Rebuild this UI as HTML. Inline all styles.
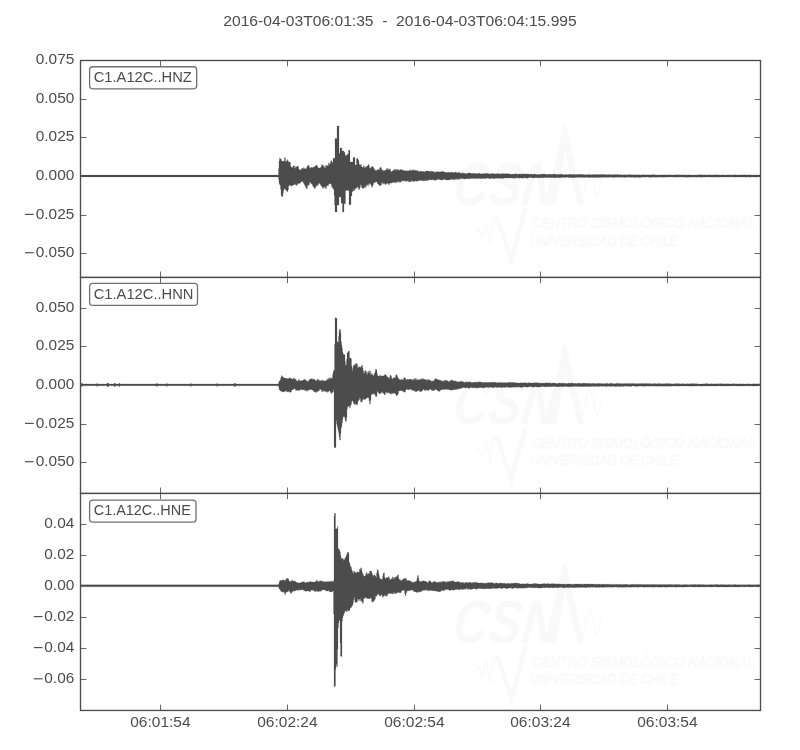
<!DOCTYPE html>
<html><head><meta charset="utf-8"><title>plot</title>
<style>html,body{margin:0;padding:0;background:#fff;}svg{display:block;}</style></head>
<body>
<svg width="800" height="750" viewBox="0 0 800 750" font-family="'Liberation Sans', sans-serif" fill="#4c4c4c">
<rect width="800" height="750" fill="#fff"/>
<g transform="translate(0,0.0)" fill="#f9f9f9" stroke="none">
<text transform="translate(451.5,205) skewX(-7)" font-size="61" font-weight="bold" font-style="italic" textLength="104" lengthAdjust="spacingAndGlyphs">CSN</text>
<path d="M549,205 L556,160 L563.6,125 L566,125 L584,205 L578,205 L565,152 L556,205Z"/>
<path d="M581,205 L589.5,167 L597,197 L602,179" fill="none" stroke="#f8f8f8" stroke-width="1"/>
<path d="M476,233 L479,228 L482,238 L486,222 L490,244 L494,216 L497,222" fill="none" stroke="#f8f8f8" stroke-width="1"/>
<path d="M495,217 L499,217 L511,252 L523,208 L528,208 L511.5,268Z"/>
<g fill="none" stroke="#f5f5f5" stroke-width="0.45" font-style="italic">
<text x="532" y="228.3" font-size="15" textLength="223" lengthAdjust="spacingAndGlyphs">CENTRO SISMOLÓGICO NACIONAL</text>
<text x="530" y="245.6" font-size="15" textLength="148" lengthAdjust="spacingAndGlyphs">UNIVERSIDAD DE CHILE</text>
</g></g>
<g transform="translate(0,219.4)" fill="#f9f9f9" stroke="none">
<text transform="translate(451.5,205) skewX(-7)" font-size="61" font-weight="bold" font-style="italic" textLength="104" lengthAdjust="spacingAndGlyphs">CSN</text>
<path d="M549,205 L556,160 L563.6,125 L566,125 L584,205 L578,205 L565,152 L556,205Z"/>
<path d="M581,205 L589.5,167 L597,197 L602,179" fill="none" stroke="#f8f8f8" stroke-width="1"/>
<path d="M476,233 L479,228 L482,238 L486,222 L490,244 L494,216 L497,222" fill="none" stroke="#f8f8f8" stroke-width="1"/>
<path d="M495,217 L499,217 L511,252 L523,208 L528,208 L511.5,268Z"/>
<g fill="none" stroke="#f5f5f5" stroke-width="0.45" font-style="italic">
<text x="532" y="228.3" font-size="15" textLength="223" lengthAdjust="spacingAndGlyphs">CENTRO SISMOLÓGICO NACIONAL</text>
<text x="530" y="245.6" font-size="15" textLength="148" lengthAdjust="spacingAndGlyphs">UNIVERSIDAD DE CHILE</text>
</g></g>
<g transform="translate(0,438.3)" fill="#f9f9f9" stroke="none">
<text transform="translate(451.5,205) skewX(-7)" font-size="61" font-weight="bold" font-style="italic" textLength="104" lengthAdjust="spacingAndGlyphs">CSN</text>
<path d="M549,205 L556,160 L563.6,125 L566,125 L584,205 L578,205 L565,152 L556,205Z"/>
<path d="M581,205 L589.5,167 L597,197 L602,179" fill="none" stroke="#f8f8f8" stroke-width="1"/>
<path d="M476,233 L479,228 L482,238 L486,222 L490,244 L494,216 L497,222" fill="none" stroke="#f8f8f8" stroke-width="1"/>
<path d="M495,217 L499,217 L511,252 L523,208 L528,208 L511.5,268Z"/>
<g fill="none" stroke="#f5f5f5" stroke-width="0.45" font-style="italic">
<text x="532" y="228.3" font-size="15" textLength="223" lengthAdjust="spacingAndGlyphs">CENTRO SISMOLÓGICO NACIONAL</text>
<text x="530" y="245.6" font-size="15" textLength="148" lengthAdjust="spacingAndGlyphs">UNIVERSIDAD DE CHILE</text>
</g></g>
<path d="M80.5,175.1V175.1H81V175.1H81.5V175.1H82V175.1H82.5V175.1H83V175.1H83.5V175.1H84V175.1H84.5V175.1H85V175.1H85.5V175.1H86V175.1H86.5V175.1H87V175.1H87.5V175.1H88V175.1H88.5V175.1H89V175.1H89.5V175.1H90V175.1H90.5V175.1H91V175.1H91.5V175.1H92V175.1H92.5V175.1H93V175.1H93.5V175.1H94V175.1H94.5V175.1H95V175.1H95.5V175.1H96V175.1H96.5V175.1H97V175.1H97.5V175.1H98V175.1H98.5V175.1H99V175.1H99.5V175.1H100V175.1H100.5V175.1H101V175.1H101.5V175.1H102V175.1H102.5V175.1H103V175.1H103.5V175.1H104V175.1H104.5V175.1H105V175.1H105.5V175.1H106V175.1H106.5V175.1H107V175.1H107.5V175.1H108V175.1H108.5V175.1H109V175.1H109.5V175.1H110V175.1H110.5V175.1H111V175.1H111.5V175.1H112V175.1H112.5V175.1H113V175.1H113.5V175.1H114V175.1H114.5V175.1H115V175.1H115.5V175.1H116V175.1H116.5V175.1H117V175.1H117.5V175.1H118V175.1H118.5V175.1H119V175.1H119.5V175.1H120V175.1H120.5V175.1H121V175.1H121.5V175.1H122V175.1H122.5V175.1H123V175.1H123.5V175.1H124V175.1H124.5V175.1H125V175.1H125.5V175.1H126V175.1H126.5V175.1H127V175.1H127.5V175.1H128V175.1H128.5V175.1H129V175.1H129.5V175.1H130V175.1H130.5V175.1H131V175.1H131.5V175.1H132V175.1H132.5V175.1H133V175.1H133.5V175.1H134V175.1H134.5V175.1H135V175.1H135.5V175.1H136V175.1H136.5V175.1H137V175.1H137.5V175.1H138V175.1H138.5V175.1H139V175.1H139.5V175.1H140V175.1H140.5V175.1H141V175.1H141.5V175.1H142V175.1H142.5V175.1H143V175.1H143.5V175.1H144V175.1H144.5V175.1H145V175.1H145.5V175.1H146V175.1H146.5V175.1H147V175.1H147.5V175.1H148V175.1H148.5V175.1H149V175.1H149.5V175.1H150V175.1H150.5V175.1H151V175.1H151.5V175.1H152V175.1H152.5V175.1H153V175.1H153.5V175.1H154V175.1H154.5V175.1H155V175.1H155.5V175.1H156V175.1H156.5V175.1H157V175.1H157.5V175.1H158V175.1H158.5V175.1H159V175.1H159.5V175.1H160V175.1H160.5V175.1H161V175.1H161.5V175.1H162V175.1H162.5V175.1H163V175.1H163.5V175.1H164V175.1H164.5V175.1H165V175.1H165.5V175.1H166V175.1H166.5V175.1H167V175.1H167.5V175.1H168V175.1H168.5V175.1H169V175.1H169.5V175.1H170V175.1H170.5V175.1H171V175.1H171.5V175.1H172V175.1H172.5V175.1H173V175.1H173.5V175.1H174V175.1H174.5V175.1H175V175.1H175.5V175.1H176V175.1H176.5V175.1H177V175.1H177.5V175.1H178V175.1H178.5V175.1H179V175.1H179.5V175.1H180V175.1H180.5V175.1H181V175.1H181.5V175.1H182V175.1H182.5V175.1H183V175.1H183.5V175.1H184V175.1H184.5V175.1H185V175.1H185.5V175.1H186V175.1H186.5V175.1H187V175.1H187.5V175.1H188V175.1H188.5V175.1H189V175.1H189.5V175.1H190V175.1H190.5V175.1H191V175.1H191.5V175.1H192V175.1H192.5V175.1H193V175.1H193.5V175.1H194V175.1H194.5V175.1H195V175.1H195.5V175.1H196V175.1H196.5V175.1H197V175.1H197.5V175.1H198V175.1H198.5V175.1H199V175.1H199.5V175.1H200V175.1H200.5V175.1H201V175.1H201.5V175.1H202V175.1H202.5V175.1H203V175.1H203.5V175.1H204V175.1H204.5V175.1H205V175.1H205.5V175.1H206V175.1H206.5V175.1H207V175.1H207.5V175.1H208V175.1H208.5V175.1H209V175.1H209.5V175.1H210V175.1H210.5V175.1H211V175.1H211.5V175.1H212V175.1H212.5V175.1H213V175.1H213.5V175.1H214V175.1H214.5V175.1H215V175.1H215.5V175.1H216V175.1H216.5V175.1H217V175.1H217.5V175.1H218V175.1H218.5V175.1H219V175.1H219.5V175.1H220V175.1H220.5V175.1H221V175.1H221.5V175.1H222V175.1H222.5V175.1H223V175.1H223.5V175.1H224V175.1H224.5V175.1H225V175.1H225.5V175.1H226V175.1H226.5V175.1H227V175.1H227.5V175.1H228V175.1H228.5V175.1H229V175.1H229.5V175.1H230V175.1H230.5V175.1H231V175.1H231.5V175.1H232V175.1H232.5V175.1H233V175.1H233.5V175.1H234V175.1H234.5V175.1H235V175.1H235.5V175.1H236V175.1H236.5V175.1H237V175.1H237.5V175.1H238V175.1H238.5V175.1H239V175.1H239.5V175.1H240V175.1H240.5V175.1H241V175.1H241.5V175.1H242V175.1H242.5V175.1H243V175.1H243.5V175.1H244V175.1H244.5V175.1H245V175.1H245.5V175.1H246V175.1H246.5V175.1H247V175.1H247.5V175.1H248V175.1H248.5V175.1H249V175.1H249.5V175.1H250V175.1H250.5V175.1H251V175.1H251.5V175.1H252V175.1H252.5V175.1H253V175.1H253.5V175.1H254V175.1H254.5V175.1H255V175.1H255.5V175.1H256V175.1H256.5V175.1H257V175.1H257.5V175.1H258V175.1H258.5V175.1H259V175.1H259.5V175.1H260V175.1H260.5V175.1H261V175.1H261.5V175.1H262V175.1H262.5V175.1H263V175.1H263.5V175.1H264V175.1H264.5V175.1H265V175.1H265.5V175.1H266V175.1H266.5V175.1H267V175.1H267.5V175.1H268V175.1H268.5V175.1H269V175.1H269.5V175.1H270V175.1H270.5V175.1H271V175.1H271.5V175.1H272V175.1H272.5V175.1H273V175.1H273.5V175.1H274V175.1H274.5V175.1H275V175.1H275.5V175.1H276V175.1H276.5V175.1H277V175.1H277.5V175.1H278V175.1H278.5V168.5H279V160.7H279.5V157.9H280V158.4H280.5V159.1H281V159.6H281.5V161.3H282V161H282.5V161.2H283V160.9H283.5V161.4H284V161.1H284.5V157.6H285V158.1H285.5V161.7H286V161.8H286.5V160.8H287V160.4H287.5V159.6H288V161.2H288.5V162.3H289V162.1H289.5V162H290V162.6H290.5V166.2H291V167.5H291.5V167.3H292V167.7H292.5V167H293V166H293.5V165.9H294V165.7H294.5V167.9H295V168.5H295.5V166.5H296V166.8H296.5V167H297V166.5H297.5V165.9H298V166.2H298.5V168.8H299V169.6H299.5V169.7H300V169.7H300.5V170.2H301V169.8H301.5V168.6H302V168.1H302.5V168.6H303V168.9H303.5V167.6H304V168H304.5V168.9H305V168.8H305.5V168.9H306V168.8H306.5V167.4H307V166.5H307.5V165.8H308V164.9H308.5V165.4H309V166.7H309.5V167.9H310V168.4H310.5V167.6H311V167.2H311.5V167.7H312V167.7H312.5V167.4H313V167.5H313.5V167.1H314V167H314.5V166.5H315V166.1H315.5V165.7H316V165.3H316.5V165.2H317V165.7H317.5V167.2H318V167.7H318.5V168.5H319V168.1H319.5V168H320V167.6H320.5V167.5H321V167.1H321.5V164.6H322V164.7H322.5V165.3H323V165.4H323.5V166.3H324V166.5H324.5V168H325V168.1H325.5V165.6H326V165.3H326.5V165.8H327V165.4H327.5V166.3H328V165.7H328.5V162.9H329V163.4H329.5V164.4H330V163.9H330.5V161.2H331V160.4H331.5V161.4H332V162H332.5V163.2H333V158.2H333.5V158.2H334V158.2H334.5V158.2H335V138.4H335.5V138.4H336V138.4H336.5V138.4H337V125.9H337.5V125.9H338V125.9H338.5V125.9H339V153.2H339.5V153.2H340V148.1H340.5V148.1H341V148.1H341.5V148.1H342V151.1H342.5V151.1H343V151.1H343.5V151.1H344V152.2H344.5V152.2H345V155.4H345.5V155.4H346V155.4H346.5V155.4H347V154.3H347.5V154.3H348V154.3H348.5V150.2H349V150.2H349.5V150.2H350V161.9H350.5V161.9H351V161.9H351.5V161.9H352V161.9H352.5V161.9H353V157.5H353.5V157.5H354V157.5H354.5V157.5H355V165H355.5V165H356V165H356.5V158.4H357V158.4H357.5V158.4H358V160.3H358.5V160.3H359V164.4H359.5V164.6H360V165.6H360.5V164.5H361V164.5H361.5V167H362V167H362.5V167.2H363V167.6H363.5V165.7H364V166.2H364.5V168H365V168H365.5V166.6H366V166.6H366.5V166.9H367V165.9H367.5V166.1H368V165.3H368.5V164.3H369V166.1H369.5V168H370V168.6H370.5V167.9H371V167.2H371.5V166.9H372V166.3H372.5V166.5H373V167.2H373.5V168.1H374V168.9H374.5V170.1H375V170.2H375.5V170.4H376V170.5H376.5V170.2H377V170.3H377.5V169.4H378V169H378.5V170.2H379V169.9H379.5V167.9H380V167.5H380.5V167.2H381V167.8H381.5V169.9H382V170.4H382.5V169.8H383V170.3H383.5V171.2H384V171H384.5V170.4H385V170.1H385.5V170H386V169.8H386.5V168.4H387V168.2H387.5V169.9H388V169.8H388.5V168.9H389V169.3H389.5V168.7H390V169.2H390.5V171.2H391V171.5H391.5V171.4H392V171.3H392.5V170.8H393V170.6H393.5V170.3H394V170.1H394.5V169H395V169.1H395.5V170.5H396V170.6H396.5V169.5H397V169.6H397.5V169.4H398V169.4H398.5V170.5H399V170.4H399.5V170H400V169.9H400.5V169.4H401V169.3H401.5V170H402V170.2H402.5V169.9H403V170.2H403.5V170.4H404V170.7H404.5V170.8H405V170.7H405.5V170.7H406V170.5H406.5V171.2H407V171.1H407.5V170.8H408V170.7H408.5V171.1H409V171.1H409.5V169.7H410V169.7H410.5V170.8H411V170.8H411.5V170.4H412V170.3H412.5V169.7H413V169.7H413.5V170.8H414V171H414.5V169.8H415V170H415.5V170.7H416V170.8H416.5V170.5H417V170.6H417.5V170.8H418V170.9H418.5V171.9H419V171.9H419.5V171.1H420V171.1H420.5V171.1H421V171.1H421.5V171.8H422V171.8H422.5V171.3H423V171.3H423.5V171.8H424V171.8H424.5V171.9H425V171.8H425.5V171H426V171H426.5V171.1H427V171.1H427.5V171H428V171H428.5V171H429V170.9H429.5V171.7H430V171.8H430.5V171.3H431V171.4H431.5V170.9H432V171.1H432.5V171.8H433V171.9H433.5V171.6H434V171.7H434.5V172.5H435V172.5H435.5V171.8H436V171.7H436.5V171.9H437V171.9H437.5V171.6H438V171.6H438.5V172H439V171.9H439.5V172.1H440V172.1H440.5V171.8H441V171.8H441.5V171.3H442V171.4H442.5V171.5H443V171.6H443.5V171.9H444V172H444.5V172H445V172.1H445.5V172.7H446V172.8H446.5V172.2H447V172.2H447.5V172.4H448V172.3H448.5V172.2H449V172.2H449.5V172.4H450V172.4H450.5V172.3H451V172.3H451.5V172.4H452V172.3H452.5V172.3H453V172.3H453.5V172.9H454V173H454.5V172.2H455V172.2H455.5V172.1H456V172.1H456.5V173.1H457V173.1H457.5V172.7H458V172.8H458.5V172.3H459V172.3H459.5V172.8H460V173.3H460.5V173.4H461V173.4H461.5V172.8H462V172.8H462.5V173.2H463V173.2H463.5V173H464V173.1H464.5V173.4H465V173.4H465.5V173.7H466V173.7H466.5V173.7H467V173.7H467.5V172.9H468V172.9H468.5V172.9H469V172.9H469.5V173.1H470V173.1H470.5V173.2H471V173.2H471.5V173.7H472V173.7H472.5V173.2H473V173.2H473.5V173.3H474V173.3H474.5V173.6H475V173.6H475.5V173.8H476V173.8H476.5V173.2H477V173.2H477.5V173.9H478V173.9H478.5V173H479V173H479.5V173.4H480V173.4H480.5V173.9H481V174H481.5V173.9H482V173.9H482.5V173.3H483V173.4H483.5V173.9H484V174H484.5V173.4H485V173.4H485.5V173.6H486V173.6H486.5V173.4H487V173.4H487.5V173.3H488V173.4H488.5V173.9H489V173.9H489.5V173.8H490V173.8H490.5V174H491V174H491.5V173.6H492V173.6H492.5V173.3H493V173.3H493.5V174.1H494V174.1H494.5V173.9H495V173.9H495.5V173.7H496V173.7H496.5V173.8H497V173.9H497.5V173.5H498V173.5H498.5V173.8H499V173.8H499.5V174.2H500V174.2H500.5V173.7H501V173.8H501.5V173.7H502V173.7H502.5V173.8H503V173.8H503.5V173.5H504V173.5H504.5V173.9H505V173.9H505.5V173.6H506V173.7H506.5V173.7H507V173.7H507.5V173.6H508V173.6H508.5V174.1H509V174.1H509.5V174H510V174H510.5V174.2H511V174.2H511.5V174.2H512V174.2H512.5V173.9H513V173.9H513.5V174.3H514V174.3H514.5V173.9H515V173.9H515.5V173.7H516V173.7H516.5V174.2H517V174.2H517.5V174.3H518V174.3H518.5V174.1H519V174.1H519.5V174H520V174H520.5V174.2H521V174.2H521.5V173.9H522V173.9H522.5V173.7H523V173.7H523.5V174.2H524V174.3H524.5V173.9H525V173.9H525.5V174H526V174H526.5V173.9H527V173.9H527.5V174.1H528V174.1H528.5V174.3H529V174.3H529.5V174.3H530V174.3H530.5V174H531V174H531.5V174.3H532V174.3H532.5V174.4H533V174.4H533.5V174H534V174H534.5V174H535V174H535.5V174.4H536V174.4H536.5V174.4H537V174.4H537.5V174.4H538V174.4H538.5V174.4H539V174.4H539.5V174.5H540V174.5H540.5V174.1H541V174.1H541.5V174.4H542V174.4H542.5V173.9H543V174H543.5V174H544V174H544.5V174H545V174H545.5V174.5H546V174.5H546.5V174.5H547V174.5H547.5V174.3H548V174.3H548.5V174.2H549V174.2H549.5V174.2H550V174.3H550.5V174.3H551V174.3H551.5V174.5H552V174.5H552.5V174.2H553V174.2H553.5V174.1H554V174.1H554.5V174.1H555V174.1H555.5V174.5H556V174.5H556.5V174.4H557V174.4H557.5V174.4H558V174.4H558.5V174.2H559V174.2H559.5V174.5H560V174.5H560.5V174.1H561V174.1H561.5V174.4H562V174.4H562.5V174.6H563V174.6H563.5V174.7H564V174.7H564.5V174.7H565V174.7H565.5V174.3H566V174.3H566.5V174.7H567V174.7H567.5V174.6H568V174.6H568.5V174.4H569V174.4H569.5V174.3H570V174.3H570.5V174.5H571V174.5H571.5V174.5H572V174.5H572.5V174.6H573V174.6H573.5V174.3H574V174.3H574.5V174.7H575V174.7H575.5V174.6H576V174.6H576.5V174.5H577V174.5H577.5V174.8H578V174.8H578.5V174.3H579V174.3H579.5V174.3H580V174.3H580.5V174.4H581V174.4H581.5V174.5H582V174.5H582.5V174.3H583V174.3H583.5V174.7H584V174.7H584.5V174.7H585V174.7H585.5V174.7H586V174.8H586.5V174.7H587V174.7H587.5V174.4H588V174.4H588.5V174.7H589V174.7H589.5V174.5H590V174.5H590.5V174.7H591V174.7H591.5V174.8H592V174.8H592.5V174.6H593V174.6H593.5V174.7H594V174.7H594.5V174.4H595V174.4H595.5V174.6H596V174.6H596.5V174.4H597V174.4H597.5V174.7H598V174.7H598.5V174.5H599V174.5H599.5V174.5H600V174.5H600.5V174.4H601V174.4H601.5V174.5H602V174.5H602.5V174.6H603V174.6H603.5V174.6H604V174.6H604.5V174.5H605V174.5H605.5V174.7H606V174.7H606.5V174.7H607V174.7H607.5V174.8H608V174.8H608.5V174.5H609V174.5H609.5V174.5H610V174.5H610.5V174.9H611V174.9H611.5V174.5H612V174.5H612.5V174.7H613V174.7H613.5V174.8H614V174.8H614.5V174.6H615V174.6H615.5V174.7H616V174.7H616.5V174.5H617V174.5H617.5V174.5H618V174.5H618.5V174.9H619V174.9H619.5V174.7H620V174.7H620.5V174.6H621V174.6H621.5V174.9H622V174.9H622.5V174.9H623V174.9H623.5V174.8H624V174.8H624.5V174.8H625V174.8H625.5V175H626V175H626.5V174.7H627V174.7H627.5V174.8H628V174.8H628.5V174.7H629V174.7H629.5V174.6H630V174.6H630.5V174.7H631V174.7H631.5V174.9H632V175H632.5V174.7H633V174.7H633.5V174.9H634V174.9H634.5V174.8H635V174.8H635.5V174.7H636V174.7H636.5V174.9H637V174.9H637.5V174.9H638V174.9H638.5V174.7H639V174.7H639.5V174.9H640V174.9H640.5V174.9H641V174.9H641.5V174.9H642V174.9H642.5V174.6H643V174.6H643.5V174.8H644V174.8H644.5V175H645V175H645.5V174.9H646V174.9H646.5V174.7H647V174.7H647.5V175H648V175H648.5V174.8H649V174.8H649.5V174.9H650V174.9H650.5V174.9H651V174.9H651.5V174.8H652V174.8H652.5V174.6H653V174.6H653.5V174.8H654V174.8H654.5V174.8H655V174.8H655.5V174.9H656V174.9H656.5V174.9H657V174.9H657.5V174.9H658V174.9H658.5V174.9H659V174.9H659.5V174.9H660V174.9H660.5V174.9H661V174.9H661.5V174.7H662V174.7H662.5V175H663V175H663.5V174.9H664V174.9H664.5V174.7H665V174.7H665.5V175H666V175H666.5V175H667V175H667.5V174.9H668V174.9H668.5V174.8H669V174.8H669.5V174.8H670V174.8H670.5V174.9H671V174.9H671.5V175H672V175H672.5V175.1H673V175.1H673.5V175H674V175H674.5V174.8H675V174.8H675.5V175H676V175H676.5V174.7H677V174.7H677.5V174.8H678V174.8H678.5V174.9H679V174.9H679.5V174.8H680V174.8H680.5V175H681V175H681.5V174.9H682V174.9H682.5V174.9H683V174.9H683.5V174.8H684V174.8H684.5V174.9H685V174.9H685.5V175H686V175H686.5V175H687V175H687.5V175H688V175H688.5V174.8H689V174.8H689.5V175H690V175H690.5V175H691V175H691.5V175H692V175H692.5V175.1H693V175.1H693.5V175.1H694V175.1H694.5V175.1H695V175.1H695.5V174.9H696V174.9H696.5V174.9H697V174.9H697.5V175H698V175H698.5V174.8H699V174.8H699.5V174.8H700V174.8H700.5V174.8H701V174.8H701.5V174.8H702V174.8H702.5V175H703V175H703.5V174.9H704V174.9H704.5V174.8H705V174.8H705.5V175.1H706V175.1H706.5V174.9H707V174.9H707.5V175.1H708V175.1H708.5V174.8H709V174.8H709.5V174.8H710V174.8H710.5V174.9H711V174.9H711.5V174.9H712V174.9H712.5V175H713V175H713.5V175.1H714V175.1H714.5V174.8H715V174.8H715.5V174.8H716V174.8H716.5V174.9H717V174.9H717.5V174.8H718V174.8H718.5V175H719V175H719.5V174.9H720V174.9H720.5V175H721V175H721.5V174.9H722V174.9H722.5V174.8H723V174.8H723.5V175H724V175H724.5V175H725V175H725.5V175.1H726V175.1H726.5V175H727V175H727.5V174.9H728V174.9H728.5V174.8H729V174.8H729.5V175H730V175H730.5V174.9H731V174.9H731.5V175.1H732V175.1H732.5V175.1H733V175.1H733.5V174.8H734V174.8H734.5V174.8H735V174.8H735.5V175H736V175H736.5V175.1H737V175.1H737.5V174.9H738V174.9H738.5V175H739V175H739.5V174.9H740V174.9H740.5V174.8H741V174.8H741.5V175.1H742V175.1H742.5V175.1H743V175.1H743.5V174.8H744V174.8H744.5V174.8H745V174.8H745.5V175H746V175H746.5V175.1H747V175.1H747.5V175H748V175H748.5V174.8H749V174.8H749.5V175.1H750V175.1H750.5V175.1H751V175.1H751.5V175H752V175H752.5V175H753V175H753.5V175.1H754V175.1H754.5V175.1H755V175.1H755.5V175H756V175H756.5V175H757V175H757.5V174.9H758V174.9H758.5V174.9H759V174.9H759.5V175.1H760V175.1H760.5V177.1H760V177.1H759.5V177.1H759V177.1H758.5V177.1H758V177.1H757.5V177.1H757V177.1H756.5V177.2H756V177.2H755.5V177H755V177H754.5V176.9H754V176.9H753.5V176.9H753V176.9H752.5V177H752V177H751.5V177H751V177H750.5V177.2H750V177.2H749.5V177.1H749V177.1H748.5V176.9H748V176.9H747.5V177.1H747V177.1H746.5V177.2H746V177.2H745.5V176.9H745V176.9H744.5V177H744V177H743.5V177.1H743V177.1H742.5V177.1H742V177.1H741.5V177.1H741V177.1H740.5V176.9H740V176.9H739.5V177.1H739V177.1H738.5V176.9H738V176.9H737.5V177H737V177H736.5V177.1H736V177.1H735.5V177.2H735V177.2H734.5V177.1H734V177.1H733.5V177H733V177H732.5V177H732V177H731.5V176.9H731V176.9H730.5V176.9H730V176.9H729.5V177.1H729V177.1H728.5V177.1H728V177.1H727.5V176.9H727V176.9H726.5V177H726V177.1H725.5V177.1H725V177.1H724.5V176.9H724V176.9H723.5V177.1H723V177.1H722.5V177H722V177H721.5V177.1H721V177.1H720.5V177H720V177H719.5V177.2H719V177.2H718.5V177H718V177H717.5V177.1H717V177.1H716.5V177.1H716V177.1H715.5V177.2H715V177.2H714.5V176.9H714V176.9H713.5V177H713V177H712.5V177.2H712V177.2H711.5V177H711V177H710.5V177H710V177H709.5V176.9H709V176.9H708.5V176.9H708V176.9H707.5V176.9H707V176.9H706.5V177H706V177H705.5V177.2H705V177.2H704.5V177.1H704V177.1H703.5V177.2H703V177.2H702.5V177H702V177H701.5V177.2H701V177.2H700.5V177.2H700V177.2H699.5V177H699V177H698.5V176.9H698V176.9H697.5V177.3H697V177.3H696.5V176.9H696V176.9H695.5V177.1H695V177.1H694.5V177.2H694V177.2H693.5V176.9H693V176.9H692.5V177.1H692V177.1H691.5V177.2H691V177.2H690.5V177H690V177H689.5V177.2H689V177.2H688.5V177.2H688V177.2H687.5V177.2H687V177.2H686.5V177.3H686V177.3H685.5V177.1H685V177.1H684.5V177.2H684V177.2H683.5V177H683V177H682.5V177H682V177H681.5V177.1H681V177.1H680.5V176.9H680V176.9H679.5V177.1H679V177.1H678.5V177.1H678V177.1H677.5V177.2H677V177.2H676.5V177H676V177H675.5V177.1H675V177.1H674.5V177.3H674V177.3H673.5V177H673V177H672.5V176.9H672V176.9H671.5V176.9H671V176.9H670.5V177H670V177H669.5V177H669V177H668.5V177.1H668V177.1H667.5V177H667V177H666.5V177.3H666V177.3H665.5V177.1H665V177.1H664.5V177.2H664V177.2H663.5V177.2H663V177.2H662.5V177.3H662V177.3H661.5V177.1H661V177.1H660.5V177H660V177.1H659.5V177.2H659V177.2H658.5V177.2H658V177.2H657.5V177H657V177H656.5V177.2H656V177.2H655.5V177.2H655V177.2H654.5V177.1H654V177.1H653.5V177.2H653V177.2H652.5V177H652V177H651.5V177.4H651V177.4H650.5V177.3H650V177.3H649.5V177.3H649V177.3H648.5V177.1H648V177.1H647.5V177.1H647V177.1H646.5V177.1H646V177.1H645.5V177.3H645V177.3H644.5V177.2H644V177.2H643.5V177.1H643V177.1H642.5V177.1H642V177.1H641.5V177.4H641V177.4H640.5V177.2H640V177.2H639.5V177.4H639V177.4H638.5V177.4H638V177.4H637.5V177H637V177H636.5V177.4H636V177.4H635.5V177.2H635V177.2H634.5V177.4H634V177.4H633.5V177.2H633V177.2H632.5V177H632V177H631.5V177.4H631V177.4H630.5V177.1H630V177.1H629.5V177.2H629V177.2H628.5V177.3H628V177.3H627.5V177.1H627V177.1H626.5V177.2H626V177.2H625.5V177.4H625V177.4H624.5V177.5H624V177.5H623.5V177.1H623V177.1H622.5V177.2H622V177.2H621.5V177.5H621V177.5H620.5V177.1H620V177.1H619.5V177.2H619V177.2H618.5V177.2H618V177.2H617.5V177.3H617V177.3H616.5V177.3H616V177.3H615.5V177.3H615V177.3H614.5V177.4H614V177.4H613.5V177.3H613V177.3H612.5V177.4H612V177.5H611.5V177.1H611V177.1H610.5V177.2H610V177.2H609.5V177.2H609V177.2H608.5V177.4H608V177.4H607.5V177.3H607V177.3H606.5V177.3H606V177.3H605.5V177.2H605V177.3H604.5V177.3H604V177.3H603.5V177.3H603V177.3H602.5V177.4H602V177.4H601.5V177.2H601V177.2H600.5V177.4H600V177.4H599.5V177.4H599V177.4H598.5V177.5H598V177.5H597.5V177.5H597V177.5H596.5V177.5H596V177.5H595.5V177.4H595V177.4H594.5V177.5H594V177.5H593.5V177.4H593V177.4H592.5V177.3H592V177.3H591.5V177.4H591V177.4H590.5V177.4H590V177.4H589.5V177.5H589V177.5H588.5V177.5H588V177.5H587.5V177.3H587V177.3H586.5V177.3H586V177.3H585.5V177.4H585V177.4H584.5V177.5H584V177.5H583.5V177.3H583V177.4H582.5V177.3H582V177.3H581.5V177.4H581V177.4H580.5V177.2H580V177.2H579.5V177.6H579V177.6H578.5V177.3H578V177.3H577.5V177.3H577V177.3H576.5V177.5H576V177.5H575.5V177.5H575V177.5H574.5V177.7H574V177.7H573.5V177.4H573V177.4H572.5V177.8H572V177.8H571.5V177.5H571V177.5H570.5V177.4H570V177.4H569.5V177.7H569V177.7H568.5V177.3H568V177.3H567.5V177.3H567V177.3H566.5V177.3H566V177.3H565.5V177.6H565V177.6H564.5V177.3H564V177.4H563.5V177.4H563V177.4H562.5V177.3H562V177.3H561.5V177.6H561V177.6H560.5V177.7H560V177.8H559.5V177.8H559V177.8H558.5V177.6H558V177.6H557.5V177.7H557V177.7H556.5V177.8H556V177.8H555.5V177.6H555V177.6H554.5V177.9H554V177.9H553.5V177.4H553V177.4H552.5V177.4H552V177.4H551.5V177.8H551V177.8H550.5V177.7H550V177.7H549.5V177.5H549V177.5H548.5V177.5H548V177.5H547.5V177.7H547V177.7H546.5V177.4H546V177.4H545.5V177.4H545V177.4H544.5V177.5H544V177.5H543.5V178H543V178H542.5V177.6H542V177.6H541.5V177.6H541V177.6H540.5V178.1H540V178.1H539.5V177.8H539V177.8H538.5V177.6H538V177.6H537.5V178H537V178H536.5V177.5H536V177.5H535.5V177.8H535V177.8H534.5V177.9H534V177.9H533.5V177.8H533V177.8H532.5V178.1H532V178.1H531.5V177.6H531V177.6H530.5V177.6H530V177.6H529.5V177.6H529V177.6H528.5V178.1H528V178.1H527.5V178.2H527V178.2H526.5V178.2H526V178.2H525.5V177.6H525V177.6H524.5V177.8H524V177.8H523.5V178.3H523V178.3H522.5V177.9H522V177.9H521.5V178H521V178H520.5V177.9H520V177.9H519.5V178.3H519V178.3H518.5V177.7H518V177.7H517.5V177.7H517V177.7H516.5V178.2H516V178.2H515.5V177.8H515V177.8H514.5V178.4H514V178.4H513.5V177.9H513V177.9H512.5V178.1H512V178.2H511.5V177.7H511V177.7H510.5V178.1H510V178.1H509.5V177.9H509V177.9H508.5V178.1H508V178.1H507.5V177.9H507V177.9H506.5V178.1H506V178.1H505.5V177.9H505V177.9H504.5V177.9H504V178H503.5V178.4H503V178.4H502.5V178.5H502V178.5H501.5V178H501V178H500.5V178.5H500V178.5H499.5V178.3H499V178.3H498.5V178.1H498V178.1H497.5V178.4H497V178.4H496.5V178.1H496V178.1H495.5V178.4H495V178.4H494.5V178.7H494V178.7H493.5V178.5H493V178.5H492.5V178.2H492V178.3H491.5V178.6H491V178.6H490.5V178.4H490V178.4H489.5V178.7H489V178.7H488.5V178H488V178H487.5V178H487V178H486.5V178.8H486V178.8H485.5V178.1H485V178.1H484.5V178.7H484V178.7H483.5V178.2H483V178.2H482.5V178.8H482V178.8H481.5V178.6H481V178.7H480.5V178.2H480V178.3H479.5V178.5H479V178.5H478.5V178.4H478V178.4H477.5V178.6H477V178.6H476.5V178.6H476V178.6H475.5V178.5H475V178.5H474.5V178.4H474V178.4H473.5V178.5H473V178.5H472.5V178.2H472V178.2H471.5V178.6H471V178.6H470.5V178.8H470V178.8H469.5V178.8H469V178.8H468.5V178.8H468V178.8H467.5V178.5H467V178.5H466.5V179H466V179H465.5V178.9H465V178.9H464.5V179.1H464V179.1H463.5V178.6H463V178.6H462.5V178.6H462V178.6H461.5V178.8H461V178.8H460.5V178.8H460V179.2H459.5V178.5H459V178.6H458.5V179.4H458V179.4H457.5V179.3H457V179.3H456.5V178.8H456V178.8H455.5V179.6H455V179.6H454.5V179.7H454V179.7H453.5V179.5H453V179.5H452.5V179H452V179H451.5V179.2H451V179.3H450.5V179.8H450V179.8H449.5V179.9H449V179.9H448.5V179.9H448V179.9H447.5V179.9H447V179.9H446.5V180H446V180H445.5V179.4H445V179.4H444.5V179.1H444V179.1H443.5V180H443V180H442.5V180.1H442V180.1H441.5V180H441V180H440.5V179.5H440V179.5H439.5V179.4H439V179.4H438.5V179.5H438V179.5H437.5V179.3H437V179.4H436.5V180.2H436V180.2H435.5V180.3H435V180.3H434.5V180.1H434V180.1H433.5V179.6H433V179.6H432.5V180H432V180.1H431.5V179.7H431V179.7H430.5V180H430V180H429.5V179.5H429V179.5H428.5V180.4H428V180.5H427.5V180.6H427V180.6H426.5V180.4H426V180.5H425.5V180.4H425V180.4H424.5V180.7H424V180.7H423.5V180.8H423V180.8H422.5V180.7H422V180.7H421.5V180.3H421V180.4H420.5V180.2H420V180.3H419.5V180.6H419V180.7H418.5V180.8H418V180.9H417.5V181.3H417V181.4H416.5V180.7H416V180.7H415.5V181.1H415V181.2H414.5V181.5H414V181.5H413.5V181.4H413V181.4H412.5V180.5H412V180.5H411.5V181.6H411V181.6H410.5V181.8H410V181.8H409.5V181.9H409V181.9H408.5V180.8H408V180.7H407.5V180.9H407V180.9H406.5V181.6H406V181.5H405.5V180.6H405V180.5H404.5V181H404V181H403.5V181.1H403V181.1H402.5V180.6H402V180.8H401.5V181.7H401V181.9H400.5V182.2H400V182.4H399.5V181.6H399V181.8H398.5V181.6H398V181.6H397.5V182.2H397V182.1H396.5V182.8H396V182.8H395.5V182.2H395V182.2H394.5V182.7H394V182.6H393.5V182H393V182.4H392.5V182.8H392V183.2H391.5V182.8H391V183.1H390.5V183.1H390V183.2H389.5V184.7H389V184.4H388.5V183.4H388V183.2H387.5V183.3H387V183.5H386.5V184.3H386V184.5H385.5V184H385V184.2H384.5V183.1H384V182.8H383.5V184.2H383V183.9H382.5V182.3H382V182.6H381.5V185H381V185.4H380.5V185.7H380V185.7H379.5V184.9H379V184.5H378.5V184.3H378V183.9H377.5V182.3H377V182.1H376.5V181.7H376V181.5H375.5V182.7H375V182.5H374.5V182.5H374V183H373.5V184.5H373V185.9H372.5V187H372V187.2H371.5V185H371V184.1H370.5V184.4H370V184.4H369.5V183H369V183.7H368.5V185.8H368V185.6H367.5V184.8H367V184.6H366.5V186.5H366V187.7H365.5V186H365V186.5H364.5V188H364V187.7H363.5V188.6H363V188.3H362.5V187.9H362V187.4H361.5V184.9H361V184.4H360.5V187H360V188.4H359.5V189.6H359V189.5H358.5V187.2H358V186.4H357.5V187.7H357V188.3H356.5V187.5H356V188H355.5V189.3H355V189.8H354.5V190.6H354V191.1H353.5V189.1H353V191.5H352.5V191.5H352V196H351.5V196H351V204.7H350.5V204.7H350V204.7H349.5V204.7H349V190.5H348.5V190.5H348V190.5H347.5V190.5H347V190.5H346.5V190.5H346V190.5H345.5V203.8H345V203.8H344.5V203.8H344V212H343.5V212H343V212H342.5V203.2H342V203.2H341.5V203.2H341V197H340.5V197H340V197H339.5V197H339V205H338.5V205H338V205H337.5V205H337V212H336.5V212H336V212H335.5V212H335V204.8H334.5V195.2H334V189.4H333.5V188.8H333V188.1H332.5V187.2H332V186.7H331.5V184.4H331V184.1H330.5V183.6H330V183.6H329.5V183.9H329V184.2H328.5V185.7H328V186.1H327.5V185.3H327V185.7H326.5V188.6H326V188.5H325.5V187.4H325V186.6H324.5V187.3H324V188.2H323.5V187.5H323V188.2H322.5V186.7H322V185.7H321.5V186.3H321V185.2H320.5V183.8H320V183.5H319.5V183.6H319V183.3H318.5V184.9H318V185.7H317.5V184.6H317V185.3H316.5V186.4H316V186.6H315.5V188.2H315V188.4H314.5V187.9H314V187.2H313.5V186.4H313V185.7H312.5V184.3H312V183.7H311.5V183.7H311V183H310.5V182H310V182.6H309.5V184.7H309V185.4H308.5V184.5H308V185.2H307.5V188.2H307V189H306.5V187.8H306V187.4H305.5V185.8H305V185.4H304.5V184H304V183.2H303.5V182.4H303V181.6H302.5V181.6H302V181.6H301.5V181.9H301V181.9H300.5V182.9H300V183.4H299.5V183.3H299V183.7H298.5V183.3H298V183.6H297.5V184.9H297V185.2H296.5V185.5H296V185.1H295.5V183.9H295V183.6H294.5V185H294V185.1H293.5V185.1H293V185.3H292.5V185.8H292V186H291.5V186.1H291V186.2H290.5V184.7H290V185H289.5V185.6H289V185.9H288.5V189.4H288V191.6H287.5V191.8H287V190.9H286.5V190.3H286V189.4H285.5V189.7H285V188.6H284.5V188.8H284V190.2H283.5V192.8H283V196.3H282.5V196.4H282V196.4H281.5V195.2H281V189.2H280.5V185.4H280V184.5H279.5V183.4H279V179.5H278.5V176.9H278V176.9H277.5V176.9H277V176.9H276.5V176.9H276V176.9H275.5V176.9H275V176.9H274.5V176.9H274V176.9H273.5V176.9H273V176.9H272.5V176.9H272V176.9H271.5V176.9H271V176.9H270.5V176.9H270V176.9H269.5V176.9H269V176.9H268.5V176.9H268V176.9H267.5V176.9H267V176.9H266.5V176.9H266V176.9H265.5V176.9H265V176.9H264.5V176.9H264V176.9H263.5V176.9H263V176.9H262.5V176.9H262V176.9H261.5V176.9H261V176.9H260.5V176.9H260V176.9H259.5V176.9H259V176.9H258.5V176.9H258V176.9H257.5V176.9H257V176.9H256.5V176.9H256V176.9H255.5V176.9H255V176.9H254.5V176.9H254V176.9H253.5V176.9H253V176.9H252.5V176.9H252V176.9H251.5V176.9H251V176.9H250.5V176.9H250V176.9H249.5V176.9H249V176.9H248.5V176.9H248V176.9H247.5V176.9H247V176.9H246.5V176.9H246V176.9H245.5V176.9H245V176.9H244.5V176.9H244V176.9H243.5V176.9H243V176.9H242.5V176.9H242V176.9H241.5V176.9H241V176.9H240.5V176.9H240V176.9H239.5V176.9H239V176.9H238.5V176.9H238V176.9H237.5V176.9H237V176.9H236.5V176.9H236V176.9H235.5V176.9H235V176.9H234.5V176.9H234V176.9H233.5V176.9H233V176.9H232.5V176.9H232V176.9H231.5V176.9H231V176.9H230.5V176.9H230V176.9H229.5V176.9H229V176.9H228.5V176.9H228V176.9H227.5V176.9H227V176.9H226.5V176.9H226V176.9H225.5V176.9H225V176.9H224.5V176.9H224V176.9H223.5V176.9H223V176.9H222.5V176.9H222V176.9H221.5V176.9H221V176.9H220.5V176.9H220V176.9H219.5V176.9H219V176.9H218.5V176.9H218V176.9H217.5V176.9H217V176.9H216.5V176.9H216V176.9H215.5V176.9H215V176.9H214.5V176.9H214V176.9H213.5V176.9H213V176.9H212.5V176.9H212V176.9H211.5V176.9H211V176.9H210.5V176.9H210V176.9H209.5V176.9H209V176.9H208.5V176.9H208V176.9H207.5V176.9H207V176.9H206.5V176.9H206V176.9H205.5V176.9H205V176.9H204.5V176.9H204V176.9H203.5V176.9H203V176.9H202.5V176.9H202V176.9H201.5V176.9H201V176.9H200.5V176.9H200V176.9H199.5V176.9H199V176.9H198.5V176.9H198V176.9H197.5V176.9H197V176.9H196.5V176.9H196V176.9H195.5V176.9H195V176.9H194.5V176.9H194V176.9H193.5V176.9H193V176.9H192.5V176.9H192V176.9H191.5V176.9H191V176.9H190.5V176.9H190V176.9H189.5V176.9H189V176.9H188.5V176.9H188V176.9H187.5V176.9H187V176.9H186.5V176.9H186V176.9H185.5V176.9H185V176.9H184.5V176.9H184V176.9H183.5V176.9H183V176.9H182.5V176.9H182V176.9H181.5V176.9H181V176.9H180.5V176.9H180V176.9H179.5V176.9H179V176.9H178.5V176.9H178V176.9H177.5V176.9H177V176.9H176.5V176.9H176V176.9H175.5V176.9H175V176.9H174.5V176.9H174V176.9H173.5V176.9H173V176.9H172.5V176.9H172V176.9H171.5V176.9H171V176.9H170.5V176.9H170V176.9H169.5V176.9H169V176.9H168.5V176.9H168V176.9H167.5V176.9H167V176.9H166.5V176.9H166V176.9H165.5V176.9H165V176.9H164.5V176.9H164V176.9H163.5V176.9H163V176.9H162.5V176.9H162V176.9H161.5V176.9H161V176.9H160.5V176.9H160V176.9H159.5V176.9H159V176.9H158.5V176.9H158V176.9H157.5V176.9H157V176.9H156.5V176.9H156V176.9H155.5V176.9H155V176.9H154.5V176.9H154V176.9H153.5V176.9H153V176.9H152.5V176.9H152V176.9H151.5V176.9H151V176.9H150.5V176.9H150V176.9H149.5V176.9H149V176.9H148.5V176.9H148V176.9H147.5V176.9H147V176.9H146.5V176.9H146V176.9H145.5V176.9H145V176.9H144.5V176.9H144V176.9H143.5V176.9H143V176.9H142.5V176.9H142V176.9H141.5V176.9H141V176.9H140.5V176.9H140V176.9H139.5V176.9H139V176.9H138.5V176.9H138V176.9H137.5V176.9H137V176.9H136.5V176.9H136V176.9H135.5V176.9H135V176.9H134.5V176.9H134V176.9H133.5V176.9H133V176.9H132.5V176.9H132V176.9H131.5V176.9H131V176.9H130.5V176.9H130V176.9H129.5V176.9H129V176.9H128.5V176.9H128V176.9H127.5V176.9H127V176.9H126.5V176.9H126V176.9H125.5V176.9H125V176.9H124.5V176.9H124V176.9H123.5V176.9H123V176.9H122.5V176.9H122V176.9H121.5V176.9H121V176.9H120.5V176.9H120V176.9H119.5V176.9H119V176.9H118.5V176.9H118V176.9H117.5V176.9H117V176.9H116.5V176.9H116V176.9H115.5V176.9H115V176.9H114.5V176.9H114V176.9H113.5V176.9H113V176.9H112.5V176.9H112V176.9H111.5V176.9H111V176.9H110.5V176.9H110V176.9H109.5V176.9H109V176.9H108.5V176.9H108V176.9H107.5V176.9H107V176.9H106.5V176.9H106V176.9H105.5V176.9H105V176.9H104.5V176.9H104V176.9H103.5V176.9H103V176.9H102.5V176.9H102V176.9H101.5V176.9H101V176.9H100.5V176.9H100V176.9H99.5V176.9H99V176.9H98.5V176.9H98V176.9H97.5V176.9H97V176.9H96.5V176.9H96V176.9H95.5V176.9H95V176.9H94.5V176.9H94V176.9H93.5V176.9H93V176.9H92.5V176.9H92V176.9H91.5V176.9H91V176.9H90.5V176.9H90V176.9H89.5V176.9H89V176.9H88.5V176.9H88V176.9H87.5V176.9H87V176.9H86.5V176.9H86V176.9H85.5V176.9H85V176.9H84.5V176.9H84V176.9H83.5V176.9H83V176.9H82.5V176.9H82V176.9H81.5V176.9H81V176.9H80.5Z" fill="#4c4c4c" stroke="#4c4c4c" stroke-width="0.2" stroke-linejoin="miter"/>
<path d="M80.5,383.9V383.9H81V383.9H81.5V383.1H82V383.1H82.5V383.9H83V383.9H83.5V383.9H84V383.9H84.5V383.9H85V383.9H85.5V383.9H86V383.9H86.5V383.9H87V383.9H87.5V383.9H88V383.9H88.5V383.9H89V383.9H89.5V383.9H90V383.9H90.5V383.9H91V383.9H91.5V383.9H92V383.9H92.5V383.9H93V383.9H93.5V383.9H94V383.9H94.5V383.9H95V383.9H95.5V383.9H96V383.9H96.5V383.4H97V383.4H97.5V383.9H98V383.9H98.5V383.9H99V383.9H99.5V383.9H100V383.9H100.5V383.9H101V383.9H101.5V383.9H102V383.9H102.5V383.9H103V383.9H103.5V383.9H104V383.9H104.5V383.9H105V383.9H105.5V383.9H106V383.9H106.5V383.9H107V383.1H107.5V383.1H108V383.1H108.5V383.9H109V383.9H109.5V383.9H110V383.9H110.5V383.9H111V383.9H111.5V383.9H112V383.9H112.5V383.9H113V383.9H113.5V383.9H114V383.3H114.5V383.3H115V383.3H115.5V383.9H116V383.9H116.5V383.9H117V383.9H117.5V383.9H118V383.9H118.5V383.9H119V383.3H119.5V383.3H120V383.9H120.5V383.9H121V383.9H121.5V383.9H122V383.9H122.5V383.9H123V383.9H123.5V383.9H124V383.9H124.5V383.9H125V383.9H125.5V383.9H126V383.9H126.5V383.9H127V383.9H127.5V383.9H128V383.9H128.5V383.9H129V383.9H129.5V383.9H130V383.9H130.5V383.9H131V383.9H131.5V383.9H132V383.9H132.5V383.9H133V383.9H133.5V383.9H134V383.9H134.5V383.9H135V383.9H135.5V383.9H136V383.9H136.5V383.9H137V383.9H137.5V383.9H138V383.9H138.5V383.9H139V383.9H139.5V383.9H140V383.9H140.5V383.9H141V383.9H141.5V383.9H142V383.9H142.5V383.9H143V383.9H143.5V383.9H144V383.9H144.5V383.9H145V383.9H145.5V383.9H146V383.9H146.5V383.9H147V383.9H147.5V383.9H148V383.9H148.5V383.9H149V383.9H149.5V383.9H150V383.9H150.5V383.9H151V383.9H151.5V383.9H152V383.9H152.5V383.9H153V383.9H153.5V383.9H154V383.9H154.5V383.9H155V383.9H155.5V383.9H156V383.4H156.5V383.4H157V383.4H157.5V383.9H158V383.9H158.5V383.9H159V383.9H159.5V383.9H160V383.9H160.5V383.9H161V383.9H161.5V383.9H162V383.9H162.5V383.9H163V383.9H163.5V383.9H164V383.9H164.5V383.9H165V383.9H165.5V383.9H166V383.9H166.5V383.4H167V383.4H167.5V383.9H168V383.9H168.5V383.9H169V383.9H169.5V383.9H170V383.9H170.5V383.9H171V383.9H171.5V383.9H172V383.9H172.5V383.9H173V383.9H173.5V383.9H174V383.9H174.5V383.9H175V383.9H175.5V383.9H176V383.9H176.5V383.9H177V383.9H177.5V383.9H178V383.9H178.5V383.9H179V383.9H179.5V383.9H180V383.9H180.5V383.9H181V383.9H181.5V383.9H182V383.9H182.5V383.9H183V383.9H183.5V383.9H184V383.9H184.5V383.9H185V383.9H185.5V383.9H186V383.9H186.5V383.9H187V383.9H187.5V383.9H188V383.9H188.5V383.9H189V383.9H189.5V383.9H190V383.9H190.5V383.4H191V383.4H191.5V383.9H192V383.9H192.5V383.9H193V383.9H193.5V383.9H194V383.9H194.5V383.9H195V383.9H195.5V383.9H196V383.9H196.5V383.9H197V383.9H197.5V383.9H198V383.9H198.5V383.9H199V383.9H199.5V383.9H200V383.9H200.5V383.9H201V383.9H201.5V383.9H202V383.9H202.5V383.9H203V383.9H203.5V383.9H204V383.9H204.5V383.9H205V383.9H205.5V383.9H206V383.9H206.5V383.9H207V383.9H207.5V383.9H208V383.9H208.5V383.9H209V383.9H209.5V383.9H210V383.9H210.5V383.9H211V383.9H211.5V383.9H212V383.9H212.5V383.9H213V383.9H213.5V383.9H214V383.9H214.5V383.9H215V383.9H215.5V383.9H216V383.9H216.5V383.4H217V383.4H217.5V383.9H218V383.9H218.5V383.9H219V383.9H219.5V383.9H220V383.9H220.5V383.9H221V383.9H221.5V383.9H222V383.9H222.5V383.9H223V383.9H223.5V383.9H224V383.9H224.5V383.9H225V383.9H225.5V383.9H226V383.9H226.5V383.9H227V383.9H227.5V383.9H228V383.9H228.5V383.9H229V383.9H229.5V383.9H230V383.9H230.5V383.9H231V383.9H231.5V383.9H232V383.9H232.5V383.9H233V383.9H233.5V383.9H234V383.3H234.5V383.3H235V383.3H235.5V383.9H236V383.9H236.5V383.9H237V383.9H237.5V383.9H238V383.9H238.5V383.9H239V383.9H239.5V383.9H240V383.9H240.5V383.9H241V383.9H241.5V383.9H242V383.9H242.5V383.9H243V383.9H243.5V383.9H244V383.9H244.5V383.9H245V383.9H245.5V383.9H246V383.9H246.5V383.9H247V383.9H247.5V383.9H248V383.9H248.5V383.9H249V383.9H249.5V383.9H250V383.9H250.5V383.9H251V383.9H251.5V383.9H252V383.9H252.5V383.9H253V383.9H253.5V383.9H254V383.9H254.5V383.9H255V383.9H255.5V383.9H256V383.9H256.5V383.9H257V383.9H257.5V383.9H258V383.9H258.5V383.9H259V383.9H259.5V383.9H260V383.9H260.5V383.9H261V383.9H261.5V383.9H262V383.9H262.5V383.9H263V383.9H263.5V383.9H264V383.9H264.5V383.9H265V383.9H265.5V383.9H266V383.9H266.5V383.9H267V383.9H267.5V383.9H268V383.9H268.5V383.9H269V383.9H269.5V383.9H270V383.9H270.5V383.9H271V383.9H271.5V383.9H272V383.9H272.5V383.9H273V383.9H273.5V383.9H274V383.9H274.5V383.9H275V383.9H275.5V383.9H276V383.9H276.5V383.9H277V383.9H277.5V383.9H278V383.9H278.5V382.8H279V380.9H279.5V381.1H280V380.3H280.5V378.2H281V376.7H281.5V375.6H282V375.9H282.5V376.9H283V377.6H283.5V377.5H284V377.9H284.5V378.1H285V378.1H285.5V378.6H286V378.3H286.5V378.3H287V378.7H287.5V378.6H288V379.1H288.5V378.3H289V378.2H289.5V377.9H290V377.7H290.5V378.4H291V378.2H291.5V379.1H292V379.8H292.5V379H293V378.5H293.5V378H294V378.2H294.5V379.3H295V379.5H295.5V379H296V380H296.5V380.9H297V380.8H297.5V381.4H298V381H298.5V379.6H299V379.8H299.5V380.6H300V380.8H300.5V381.1H301V380.9H301.5V380.4H302V380.3H302.5V380.4H303V380.3H303.5V379.8H304V379.6H304.5V379.3H305V379.5H305.5V380.6H306V380.9H306.5V380.6H307V381H307.5V381.8H308V381.5H308.5V380.4H309V380H309.5V379.4H310V379.1H310.5V379H311V378.8H311.5V379H312V378.8H312.5V379.4H313V379.4H313.5V378.9H314V379.2H314.5V379.7H315V380.2H315.5V380.4H316V381.2H316.5V380.5H317V379.7H317.5V378.9H318V379.2H318.5V380.4H319V380.6H319.5V380.5H320V380.7H320.5V380.7H321V380.7H321.5V380.2H322V380.2H322.5V380.2H323V380.2H323.5V381.2H324V381.1H324.5V381H325V380.9H325.5V380.8H326V380.7H326.5V379.5H327V379.2H327.5V379.7H328V379.4H328.5V378H329V377.8H329.5V379.2H330V379H330.5V377.4H331V377.9H331.5V378.5H332V378.2H332.5V374.8H333V372.1H333.5V370.6H334V370.3H334.5V344.3H335V317.8H335.5V318H336V318H336.5V318.2H337V341.8H337.5V342H338V342.2H338.5V336.2H339V330.7H339.5V329.1H340V329.6H340.5V332.5H341V341.6H341.5V344.9H342V348.3H342.5V351.9H343V354.1H343.5V354.3H344V354.4H344.5V355.1H345V361.7H345.5V365.4H346V364.8H346.5V359.3H347V353.1H347.5V352.4H348V351.4H348.5V351.3H349V351.3H349.5V358H350V358.2H350.5V358.3H351V358.5H351.5V365.9H352V371.2H352.5V368.3H353V366.5H353.5V365H354V364.5H354.5V365.6H355V365.1H355.5V363.4H356V364.1H356.5V363.4H357V364.1H357.5V367.6H358V368.1H358.5V366.4H359V366.9H359.5V366.9H360V367.2H360.5V367.3H361V366.5H361.5V365.7H362V364.9H362.5V367.8H363V370.3H363.5V373.2H364V373.1H364.5V371.3H365V371.2H365.5V370.6H366V371.2H366.5V374.1H367V374.5H367.5V372.2H368V371.1H368.5V372.9H369V372.8H369.5V370.6H370V371.2H370.5V374.4H371V375H371.5V373.3H372V373.8H372.5V375H373V375.5H373.5V375.8H374V374.3H374.5V373H375V371.5H375.5V369.2H376V369.2H376.5V370.3H377V373.9H377.5V375.8H378V375.9H378.5V376.3H379V376.4H379.5V375.4H380V375.5H380.5V375.7H381V375.8H381.5V376H382V376.1H382.5V376H383V375.7H383.5V376.1H384V375.8H384.5V374.5H385V374.5H385.5V374.9H386V375.3H386.5V376.4H387V376.8H387.5V377.1H388V377.6H388.5V378.3H389V378.7H389.5V376.9H390V375.6H390.5V375.1H391V376.1H391.5V378.3H392V379.2H392.5V378.4H393V378.1H393.5V377.8H394V377.5H394.5V378.2H395V377.4H395.5V375.6H396V374.6H396.5V375H397V375.9H397.5V377.2H398V378H398.5V379H399V379.3H399.5V379.7H400V379.9H400.5V379.8H401V379.9H401.5V379H402V379.2H402.5V380.3H403V380H403.5V378H404V377.5H404.5V377.9H405V378H405.5V379.4H406V379.5H406.5V379.5H407V379.6H407.5V379.3H408V379.4H408.5V379.4H409V379.5H409.5V378.9H410V379.1H410.5V379.2H411V379.4H411.5V379.6H412V379.5H412.5V380.5H413V380.3H413.5V378.8H414V378.6H414.5V379.4H415V379.4H415.5V378.4H416V378.6H416.5V380.1H417V380.2H417.5V379.6H418V379.6H418.5V379.8H419V379.8H419.5V379.8H420V379.8H420.5V378.9H421V378.8H421.5V379.3H422V379.3H422.5V378.5H423V378.4H423.5V379.4H424V379.5H424.5V379.2H425V379.4H425.5V379.5H426V379.6H426.5V380.4H427V380.5H427.5V379.5H428V379.6H428.5V379.8H429V379.9H429.5V380H430V380.1H430.5V380.9H431V381H431.5V381.4H432V381.4H432.5V380.7H433V380.7H433.5V381H434V380.6H434.5V379.2H435V378.7H435.5V378.7H436V378.9H436.5V379.1H437V379.3H437.5V379.7H438V379.9H438.5V379.8H439V380H439.5V380.2H440V380.3H440.5V380.5H441V380.7H441.5V381.2H442V381.2H442.5V380.8H443V380.7H443.5V381.4H444V381.2H444.5V380.3H445V380.3H445.5V380.3H446V380.5H446.5V380.4H447V380.5H447.5V381.3H448V381.4H448.5V381.6H449V381.4H449.5V381.3H450V381.1H450.5V380H451V379.7H451.5V380.7H452V380.8H452.5V380.3H453V380.5H453.5V381.1H454V381.3H454.5V381.1H455V381.2H455.5V380.8H456V380.9H456.5V381.9H457V382H457.5V381.8H458V381.9H458.5V381.7H459V381.7H459.5V381.4H460V381.4H460.5V381.4H461V381.4H461.5V381.3H462V381.4H462.5V381.7H463V381.8H463.5V382.3H464V382.4H464.5V382.6H465V381.7H465.5V382.4H466V382.4H466.5V381.7H467V381.7H467.5V382.2H468V382.2H468.5V382H469V382H469.5V381.7H470V381.7H470.5V382.3H471V382.4H471.5V382.5H472V382.5H472.5V382.4H473V382.4H473.5V382.2H474V382.2H474.5V382.1H475V382.1H475.5V382.2H476V382.2H476.5V381.9H477V381.9H477.5V382.4H478V382.4H478.5V381.8H479V381.8H479.5V382H480V382.1H480.5V381.9H481V381.9H481.5V382.5H482V382.5H482.5V382.4H483V382.4H483.5V382.6H484V382.6H484.5V382.4H485V382.4H485.5V382.3H486V382.3H486.5V382.6H487V382.6H487.5V382.5H488V382.5H488.5V382.3H489V382.3H489.5V382.7H490V382.7H490.5V382.1H491V382.1H491.5V382.7H492V382.7H492.5V382.1H493V382.1H493.5V382.2H494V382.3H494.5V382.3H495V382.3H495.5V382.6H496V382.6H496.5V382.9H497V382.9H497.5V382.3H498V382.3H498.5V382.7H499V382.7H499.5V382.8H500V382.8H500.5V382.3H501V382.3H501.5V382.7H502V382.7H502.5V382.9H503V382.9H503.5V382.2H504V382.2H504.5V382.9H505V382.9H505.5V382.4H506V382.4H506.5V382.9H507V383H507.5V382.5H508V382.5H508.5V382.4H509V382.5H509.5V382.3H510V382.3H510.5V382.7H511V382.7H511.5V382.3H512V382.3H512.5V382.6H513V382.6H513.5V382.5H514V382.5H514.5V383H515V383H515.5V382.5H516V382.5H516.5V383H517V383H517.5V383H518V383H518.5V383H519V383.1H519.5V383H520V383H520.5V382.8H521V382.8H521.5V382.8H522V382.8H522.5V383H523V383H523.5V382.9H524V382.9H524.5V382.5H525V382.5H525.5V383.1H526V383.1H526.5V382.9H527V382.9H527.5V383.2H528V383.2H528.5V382.5H529V382.6H529.5V383.1H530V383.1H530.5V383H531V383H531.5V383H532V383H532.5V383.1H533V383.1H533.5V382.8H534V382.8H534.5V382.8H535V382.8H535.5V382.9H536V382.9H536.5V382.7H537V382.7H537.5V382.7H538V382.7H538.5V383.3H539V383.3H539.5V383.1H540V383.1H540.5V383.2H541V383.2H541.5V383.1H542V383.1H542.5V383.3H543V383.3H543.5V383.1H544V383.1H544.5V383.2H545V383.2H545.5V382.8H546V382.8H546.5V383H547V383H547.5V383.1H548V383.1H548.5V383H549V383H549.5V382.8H550V382.8H550.5V383.4H551V383.4H551.5V383.2H552V383.2H552.5V382.9H553V382.9H553.5V382.9H554V382.9H554.5V383.2H555V383.2H555.5V383.3H556V383.3H556.5V383.4H557V383.4H557.5V383.4H558V383.4H558.5V383H559V383H559.5V383H560V383H560.5V383.4H561V383.4H561.5V383H562V383H562.5V383.2H563V383.2H563.5V383.3H564V383.3H564.5V383.3H565V383.3H565.5V383.5H566V383.5H566.5V383.4H567V383.4H567.5V383.2H568V383.2H568.5V383.1H569V383.1H569.5V383.4H570V383.4H570.5V383H571V383H571.5V383.1H572V383.1H572.5V383.2H573V383.2H573.5V383.4H574V383.4H574.5V383.2H575V383.2H575.5V383.5H576V383.5H576.5V383.5H577V383.5H577.5V383.3H578V383.3H578.5V383.3H579V383.3H579.5V383.2H580V383.2H580.5V383.4H581V383.4H581.5V383.5H582V383.5H582.5V383.2H583V383.2H583.5V383.1H584V383.1H584.5V383.3H585V383.3H585.5V383.6H586V383.6H586.5V383.3H587V383.3H587.5V383.4H588V383.4H588.5V383.2H589V383.2H589.5V383.4H590V383.4H590.5V383.5H591V383.5H591.5V383.4H592V383.4H592.5V383.3H593V383.3H593.5V383.5H594V383.5H594.5V383.5H595V383.5H595.5V383.7H596V383.7H596.5V383.6H597V383.6H597.5V383.3H598V383.3H598.5V383.4H599V383.4H599.5V383.5H600V383.5H600.5V383.5H601V383.5H601.5V383.4H602V383.4H602.5V383.7H603V383.7H603.5V383.7H604V383.7H604.5V383.4H605V383.4H605.5V383.5H606V383.5H606.5V383.3H607V383.3H607.5V383.7H608V383.7H608.5V383.7H609V383.7H609.5V383.5H610V383.5H610.5V383.3H611V383.3H611.5V383.3H612V383.3H612.5V383.7H613V383.7H613.5V383.8H614V383.8H614.5V383.8H615V383.8H615.5V383.5H616V383.5H616.5V383.3H617V383.3H617.5V383.6H618V383.6H618.5V383.4H619V383.4H619.5V383.6H620V383.6H620.5V383.7H621V383.7H621.5V383.4H622V383.4H622.5V383.7H623V383.7H623.5V383.5H624V383.5H624.5V383.4H625V383.4H625.5V383.4H626V383.4H626.5V383.5H627V383.5H627.5V383.5H628V383.5H628.5V383.7H629V383.7H629.5V383.6H630V383.6H630.5V383.6H631V383.6H631.5V383.6H632V383.6H632.5V383.5H633V383.5H633.5V383.5H634V383.5H634.5V383.7H635V383.7H635.5V383.8H636V383.8H636.5V383.6H637V383.6H637.5V383.7H638V383.7H638.5V383.5H639V383.5H639.5V383.7H640V383.7H640.5V383.5H641V383.5H641.5V383.5H642V383.5H642.5V383.6H643V383.6H643.5V383.8H644V383.8H644.5V383.5H645V383.5H645.5V383.4H646V383.4H646.5V383.6H647V383.6H647.5V383.7H648V383.7H648.5V383.6H649V383.6H649.5V383.5H650V383.5H650.5V383.8H651V383.8H651.5V383.7H652V383.7H652.5V383.8H653V383.8H653.5V383.5H654V383.5H654.5V383.6H655V383.6H655.5V383.7H656V383.7H656.5V383.8H657V383.8H657.5V383.7H658V383.7H658.5V383.5H659V383.6H659.5V383.5H660V383.5H660.5V383.9H661V383.9H661.5V383.7H662V383.7H662.5V383.7H663V383.7H663.5V383.8H664V383.8H664.5V383.8H665V383.8H665.5V383.5H666V383.5H666.5V383.6H667V383.6H667.5V383.8H668V383.8H668.5V383.5H669V383.5H669.5V383.7H670V383.7H670.5V383.8H671V383.8H671.5V383.9H672V383.9H672.5V383.9H673V383.9H673.5V383.8H674V383.8H674.5V383.8H675V383.8H675.5V383.6H676V383.6H676.5V383.8H677V383.8H677.5V383.7H678V383.7H678.5V383.6H679V383.6H679.5V383.9H680V383.9H680.5V383.8H681V383.8H681.5V383.9H682V383.9H682.5V383.6H683V383.6H683.5V383.9H684V383.9H684.5V383.9H685V383.9H685.5V383.8H686V383.8H686.5V383.8H687V383.8H687.5V383.7H688V383.7H688.5V383.9H689V383.9H689.5V383.7H690V383.7H690.5V383.7H691V383.7H691.5V383.8H692V383.8H692.5V383.6H693V383.6H693.5V383.8H694V383.8H694.5V383.7H695V383.7H695.5V383.8H696V383.8H696.5V383.7H697V383.7H697.5V383.9H698V383.9H698.5V383.9H699V383.9H699.5V383.9H700V383.9H700.5V383.9H701V383.9H701.5V383.9H702V383.9H702.5V383.9H703V383.9H703.5V383.8H704V383.8H704.5V383.9H705V383.9H705.5V383.6H706V383.6H706.5V383.6H707V383.6H707.5V383.9H708V383.9H708.5V383.9H709V383.9H709.5V383.9H710V383.9H710.5V383.7H711V383.7H711.5V383.7H712V383.7H712.5V383.9H713V383.9H713.5V383.9H714V383.9H714.5V383.8H715V383.8H715.5V383.9H716V383.9H716.5V383.7H717V383.7H717.5V383.8H718V383.8H718.5V383.9H719V383.9H719.5V383.6H720V383.6H720.5V383.7H721V383.7H721.5V383.7H722V383.7H722.5V383.9H723V383.9H723.5V383.7H724V383.7H724.5V383.9H725V383.9H725.5V383.9H726V383.9H726.5V383.7H727V383.7H727.5V383.7H728V383.7H728.5V383.9H729V383.9H729.5V383.9H730V383.9H730.5V383.9H731V383.9H731.5V383.8H732V383.8H732.5V383.8H733V383.8H733.5V383.7H734V383.7H734.5V383.9H735V383.9H735.5V383.8H736V383.8H736.5V383.9H737V383.9H737.5V383.9H738V383.9H738.5V383.9H739V383.9H739.5V383.7H740V383.7H740.5V383.9H741V383.9H741.5V383.9H742V383.9H742.5V383.8H743V383.8H743.5V383.9H744V383.9H744.5V383.9H745V383.9H745.5V383.9H746V383.9H746.5V383.9H747V383.9H747.5V383.7H748V383.7H748.5V383.9H749V383.9H749.5V383.9H750V383.9H750.5V383.9H751V383.9H751.5V383.9H752V383.9H752.5V383.9H753V383.9H753.5V383.7H754V383.7H754.5V383.8H755V383.8H755.5V383.9H756V383.9H756.5V383.9H757V383.9H757.5V383.7H758V383.7H758.5V383.9H759V383.9H759.5V383.8H760V383.8H760.5V385.8H760V385.8H759.5V385.8H759V385.8H758.5V386H758V386H757.5V386H757V386H756.5V386H756V386H755.5V386H755V386H754.5V385.9H754V385.9H753.5V386.1H753V386.1H752.5V386H752V386H751.5V385.8H751V385.8H750.5V385.9H750V385.9H749.5V386.1H749V386.1H748.5V385.8H748V385.8H747.5V385.9H747V385.9H746.5V385.8H746V385.8H745.5V385.9H745V385.9H744.5V386H744V386H743.5V385.9H743V385.9H742.5V386H742V386H741.5V386.1H741V386.1H740.5V386.1H740V386.1H739.5V386H739V386H738.5V386.1H738V386.1H737.5V385.9H737V385.9H736.5V386H736V386H735.5V385.8H735V385.8H734.5V385.9H734V385.9H733.5V385.9H733V385.9H732.5V385.8H732V385.8H731.5V386.1H731V386.1H730.5V385.9H730V385.9H729.5V385.9H729V385.9H728.5V385.9H728V385.9H727.5V386.1H727V386.1H726.5V386.1H726V386.1H725.5V386.1H725V386.1H724.5V386.1H724V386.1H723.5V386H723V386H722.5V386.1H722V386.1H721.5V385.9H721V385.9H720.5V386H720V386H719.5V385.8H719V385.8H718.5V386H718V386H717.5V385.9H717V385.9H716.5V385.9H716V385.9H715.5V386.1H715V386.1H714.5V385.9H714V385.9H713.5V386.1H713V386.1H712.5V386.1H712V386.1H711.5V385.9H711V385.9H710.5V386H710V386H709.5V386H709V386H708.5V386H708V386H707.5V386.1H707V386.1H706.5V386.1H706V386.1H705.5V386.1H705V386.1H704.5V386.1H704V386.1H703.5V386.1H703V386.1H702.5V386.1H702V386.1H701.5V386.2H701V386.2H700.5V386.1H700V386.1H699.5V385.8H699V385.8H698.5V386.1H698V386.1H697.5V386.1H697V386.1H696.5V385.9H696V385.9H695.5V385.9H695V385.9H694.5V385.9H694V385.9H693.5V386.2H693V386.2H692.5V385.9H692V385.9H691.5V385.9H691V385.9H690.5V386.2H690V386.2H689.5V386H689V386H688.5V385.9H688V385.9H687.5V385.9H687V385.9H686.5V385.9H686V385.9H685.5V386.1H685V386.1H684.5V385.9H684V385.9H683.5V386.1H683V386.1H682.5V385.9H682V385.9H681.5V386H681V386H680.5V386H680V386H679.5V386.1H679V386.1H678.5V386.2H678V386.2H677.5V386H677V386H676.5V386H676V386H675.5V386H675V386H674.5V386.1H674V386.1H673.5V386.1H673V386.1H672.5V385.9H672V385.9H671.5V386.2H671V386.2H670.5V385.9H670V385.9H669.5V386.3H669V386.3H668.5V385.9H668V385.9H667.5V386.3H667V386.3H666.5V386H666V386H665.5V386.2H665V386.3H664.5V386.2H664V386.2H663.5V386.2H663V386.2H662.5V385.9H662V385.9H661.5V386.1H661V386.1H660.5V386.2H660V386.2H659.5V386.2H659V386.2H658.5V386H658V386H657.5V386.3H657V386.3H656.5V386.2H656V386.2H655.5V386.1H655V386.1H654.5V386.2H654V386.2H653.5V386H653V386H652.5V386H652V386H651.5V386.2H651V386.2H650.5V386.1H650V386.1H649.5V386.3H649V386.3H648.5V386.1H648V386.1H647.5V386.1H647V386.1H646.5V386.3H646V386.3H645.5V386H645V386H644.5V386.3H644V386.3H643.5V386.2H643V386.2H642.5V386.2H642V386.2H641.5V386H641V386.1H640.5V386H640V386H639.5V386H639V386H638.5V386.4H638V386.4H637.5V386.2H637V386.2H636.5V386.3H636V386.3H635.5V386.3H635V386.3H634.5V386H634V386H633.5V386H633V386H632.5V386H632V386H631.5V386.4H631V386.4H630.5V386.2H630V386.2H629.5V386.4H629V386.4H628.5V386.1H628V386.1H627.5V386.3H627V386.3H626.5V386.2H626V386.2H625.5V386H625V386H624.5V386.2H624V386.2H623.5V386.4H623V386.4H622.5V386H622V386H621.5V386.4H621V386.4H620.5V386.4H620V386.4H619.5V386.4H619V386.4H618.5V386.1H618V386.1H617.5V386.5H617V386.5H616.5V386.4H616V386.4H615.5V386.4H615V386.4H614.5V386.4H614V386.4H613.5V386.1H613V386.1H612.5V386.5H612V386.5H611.5V386.3H611V386.3H610.5V386.4H610V386.4H609.5V386.3H609V386.3H608.5V386.1H608V386.1H607.5V386.6H607V386.6H606.5V386.3H606V386.3H605.5V386.6H605V386.6H604.5V386.1H604V386.2H603.5V386.1H603V386.1H602.5V386.6H602V386.6H601.5V386.1H601V386.1H600.5V386.2H600V386.2H599.5V386.6H599V386.6H598.5V386.5H598V386.5H597.5V386.2H597V386.2H596.5V386.2H596V386.2H595.5V386.5H595V386.5H594.5V386.6H594V386.6H593.5V386.3H593V386.3H592.5V386.3H592V386.3H591.5V386.4H591V386.4H590.5V386.4H590V386.4H589.5V386.6H589V386.6H588.5V386.4H588V386.4H587.5V386.5H587V386.5H586.5V386.4H586V386.4H585.5V386.5H585V386.5H584.5V386.4H584V386.4H583.5V386.6H583V386.6H582.5V386.7H582V386.7H581.5V386.4H581V386.4H580.5V386.7H580V386.7H579.5V386.3H579V386.3H578.5V386.7H578V386.7H577.5V386.5H577V386.5H576.5V386.3H576V386.3H575.5V386.4H575V386.4H574.5V386.3H574V386.3H573.5V386.8H573V386.8H572.5V386.6H572V386.6H571.5V386.5H571V386.5H570.5V386.7H570V386.7H569.5V386.7H569V386.7H568.5V386.8H568V386.8H567.5V386.4H567V386.4H566.5V386.5H566V386.5H565.5V386.6H565V386.6H564.5V386.6H564V386.6H563.5V386.4H563V386.4H562.5V386.9H562V386.9H561.5V386.3H561V386.3H560.5V386.8H560V386.8H559.5V386.4H559V386.4H558.5V386.9H558V386.9H557.5V386.7H557V386.7H556.5V386.5H556V386.5H555.5V386.6H555V386.6H554.5V386.5H554V386.5H553.5V386.6H553V386.6H552.5V386.4H552V386.4H551.5V386.7H551V386.8H550.5V386.8H550V386.8H549.5V386.5H549V386.5H548.5V386.7H548V386.7H547.5V386.5H547V386.5H546.5V386.9H546V386.9H545.5V386.8H545V386.8H544.5V386.7H544V386.7H543.5V386.5H543V386.5H542.5V386.5H542V386.5H541.5V386.7H541V386.7H540.5V387H540V387H539.5V387.1H539V387.1H538.5V387H538V387H537.5V387.1H537V387.1H536.5V386.7H536V386.7H535.5V386.8H535V386.8H534.5V387H534V387H533.5V387.2H533V387.2H532.5V387H532V387H531.5V386.6H531V386.6H530.5V386.8H530V386.8H529.5V386.8H529V386.8H528.5V387.1H528V387.1H527.5V387.2H527V387.2H526.5V387.1H526V387.1H525.5V386.7H525V386.7H524.5V386.8H524V386.8H523.5V387.3H523V387.3H522.5V387.2H522V387.2H521.5V387.4H521V387.4H520.5V387.2H520V387.2H519.5V386.8H519V386.8H518.5V387.3H518V387.3H517.5V387.1H517V387.1H516.5V386.8H516V386.8H515.5V387.5H515V387.5H514.5V387.1H514V387.1H513.5V387H513V387H512.5V387.5H512V387.5H511.5V387.3H511V387.3H510.5V387.5H510V387.5H509.5V387.4H509V387.4H508.5V387H508V387H507.5V387.1H507V387.1H506.5V387.2H506V387.2H505.5V387.2H505V387.2H504.5V387.6H504V387.6H503.5V386.9H503V386.9H502.5V387.5H502V387.5H501.5V387.7H501V387.7H500.5V387.1H500V387.1H499.5V387.2H499V387.2H498.5V387.5H498V387.5H497.5V387.6H497V387.6H496.5V387.3H496V387.3H495.5V387H495V387H494.5V387.5H494V387.5H493.5V387.7H493V387.7H492.5V387.5H492V387.5H491.5V387.2H491V387.2H490.5V387.2H490V387.2H489.5V387.2H489V387.2H488.5V387.8H488V387.8H487.5V387.1H487V387.1H486.5V387.3H486V387.3H485.5V387.6H485V387.6H484.5V388H484V388H483.5V387.8H483V387.8H482.5V387.8H482V387.8H481.5V387.4H481V387.4H480.5V387.4H480V387.4H479.5V387.8H479V387.8H478.5V388H478V388H477.5V387.8H477V387.9H476.5V388.2H476V388.2H475.5V387.3H475V387.3H474.5V388H474V388H473.5V387.9H473V387.9H472.5V387.4H472V387.4H471.5V387.5H471V387.6H470.5V387.7H470V387.7H469.5V388.4H469V388.4H468.5V387.8H468V387.8H467.5V387.6H467V387.6H466.5V387.9H466V387.9H465.5V387.9H465V387.7H464.5V387.5H464V387.6H463.5V387.6H463V387.7H462.5V387.8H462V387.9H461.5V388.5H461V388.6H460.5V388.6H460V388.7H459.5V388.8H459V388.9H458.5V388.6H458V388.7H457.5V389.5H457V389.6H456.5V389H456V389H455.5V389.9H455V390H454.5V389.1H454V389.2H453.5V389.9H453V389.9H452.5V390.2H452V390.2H451.5V390.1H451V390.1H450.5V389.9H450V389.9H449.5V389.5H449V389.4H448.5V389.4H448V389.4H447.5V389.4H447V389.3H446.5V388.9H446V388.9H445.5V389.7H445V389.6H444.5V389.6H444V389.5H443.5V389.5H443V389.8H442.5V389.2H442V389.5H441.5V389.7H441V390.1H440.5V390.6H440V390.7H439.5V391.6H439V391.3H438.5V390.9H438V390.7H437.5V390.2H437V389.9H436.5V389.6H436V389.4H435.5V389.5H435V389.8H434.5V390.5H434V390.9H433.5V390H433V390.3H432.5V390.7H432V390.3H431.5V389.8H431V389.5H430.5V389.1H430V389.1H429.5V390H429V390.2H428.5V390.4H428V390.6H427.5V389.8H427V389.9H426.5V390.1H426V390H425.5V390.8H425V390.7H424.5V389.4H424V389.3H423.5V389.6H423V390H422.5V391H422V391.3H421.5V391.3H421V391H420.5V391.9H420V391.5H419.5V390.5H419V390.2H418.5V390.5H418V390.7H417.5V391.2H417V391.6H416.5V391.6H416V392H415.5V390.7H415V390.5H414.5V391.3H414V391H413.5V390H413V389.7H412.5V390.6H412V390.5H411.5V389.2H411V389.2H410.5V389.3H410V389.2H409.5V389.7H409V389.6H408.5V389.9H408V389.8H407.5V389.3H407V389.4H406.5V389.3H406V389.9H405.5V392H405V392.3H404.5V391.9H404V391.6H403.5V391.4H403V391.2H402.5V391.1H402V390.9H401.5V390.2H401V390.5H400.5V390.4H400V390.7H399.5V390.9H399V391.1H398.5V393.6H398V394.7H397.5V395.4H397V396H396.5V394.9H396V394.1H395.5V394H395V393.2H394.5V392.8H394V393.1H393.5V393.4H393V393.7H392.5V393H392V393.2H391.5V394.2H391V394.1H390.5V393.6H390V393.5H389.5V392.5H389V392.3H388.5V393.1H388V392.9H387.5V392.8H387V392.9H386.5V391.6H386V392.1H385.5V394.8H385V394.9H384.5V394.1H384V393.6H383.5V393.1H383V393.2H382.5V391.8H382V392.1H381.5V392.8H381V393.2H380.5V393.4H380V393.8H379.5V393.9H379V392.9H378.5V392H378V391.1H377.5V392.5H377V396.2H376.5V396.8H376V396.8H375.5V395.1H375V393.5H374.5V394.4H374V393.9H373.5V393.4H373V393.7H372.5V394.3H372V394.8H371.5V394.5H371V400.1H370.5V403.8H370V403.8H369.5V400.9H369V398.2H368.5V397.6H368V397H367.5V397.9H367V398.2H366.5V398.3H366V398.8H365.5V399.3H365V399.8H364.5V398.9H364V399.6H363.5V398.7H363V399.4H362.5V401.5H362V401.4H361.5V402.2H361V402H360.5V398.5H360V397.7H359.5V399.8H359V400.6H358.5V400.7H358V403.1H357.5V404.9H357V404.3H356.5V404.9H356V404.4H355.5V403.5H355V404.3H354.5V404H354V403.8H353.5V402.2H353V400.8H352.5V400.7H352V401.8H351.5V404.5H351V405H350.5V407.4H350V407.9H349.5V406.1H349V406.4H348.5V406.2H348V406.6H347.5V409.1H347V417.2H346.5V421.2H346V421.4H345.5V420.1H345V417.4H344.5V416.5H344V416.5H343.5V416.9H343V419.5H342.5V423H342V426.2H341.5V428.3H341V433.7H340.5V440.1H340V440.1H339.5V436.7H339V432.7H338.5V430.5H338V428.2H337.5V426.1H337V423.8H336.5V420.8H336V447.2H335.5V447.9H335V447.8H334.5V446.7H334V390H333.5V391.8H333V392.3H332.5V392.4H332V392.8H331.5V393.6H331V392.8H330.5V391.6H330V390.9H329.5V390.5H329V391H328.5V391.9H328V392.4H327.5V391.6H327V391.3H326.5V392H326V391.8H325.5V390.9H325V390.8H324.5V391.4H324V391.5H323.5V390.4H323V390.5H322.5V391.9H322V391.5H321.5V390H321V389.7H320.5V389.1H320V389.1H319.5V390.5H319V390.9H318.5V391.3H318V391.6H317.5V391.3H317V391.6H316.5V392.3H316V392.6H315.5V392H315V391.8H314.5V391.8H314V391.5H313.5V390.4H313V390.1H312.5V390.2H312V390H311.5V389.5H311V389.2H310.5V389.5H310V389.6H309.5V390H309V390.3H308.5V390H308V390.3H307.5V391.2H307V391.2H306.5V390.2H306V390.2H305.5V390.6H305V390.4H304.5V389.6H304V389.4H303.5V390H303V389.9H302.5V389.8H302V389.9H301.5V389.1H301V389.1H300.5V390.3H300V390.6H299.5V390H299V390.3H298.5V390.5H298V390.5H297.5V390.1H297V389.9H296.5V390.8H296V390.5H295.5V388.9H295V388.7H294.5V388.7H294V389H293.5V389.6H293V389.8H292.5V389.8H292V390.1H291.5V391.7H291V392.1H290.5V392.3H290V392.4H289.5V391.4H289V391.3H288.5V392.1H288V392H287.5V391.7H287V391.6H286.5V390.5H286V390.4H285.5V391.6H285V391.6H284.5V391.4H284V391.4H283.5V392H283V392.1H282.5V391.8H282V391.5H281.5V391.2H281V391H280.5V390.7H280V390.1H279.5V389.4H279V386.8H278.5V385.8H278V385.8H277.5V385.8H277V385.8H276.5V385.8H276V385.8H275.5V385.8H275V385.8H274.5V385.8H274V385.8H273.5V385.8H273V385.8H272.5V385.8H272V385.8H271.5V385.8H271V385.8H270.5V385.8H270V385.8H269.5V385.8H269V385.8H268.5V385.8H268V385.8H267.5V385.8H267V385.8H266.5V385.8H266V385.8H265.5V385.8H265V385.8H264.5V385.8H264V385.8H263.5V385.8H263V385.8H262.5V385.8H262V385.8H261.5V385.8H261V385.8H260.5V385.8H260V385.8H259.5V385.8H259V385.8H258.5V385.8H258V385.8H257.5V385.8H257V385.8H256.5V385.8H256V385.8H255.5V385.8H255V385.8H254.5V385.8H254V385.8H253.5V385.8H253V385.8H252.5V385.8H252V385.8H251.5V385.8H251V385.8H250.5V385.8H250V385.8H249.5V385.8H249V385.8H248.5V385.8H248V385.8H247.5V385.8H247V385.8H246.5V385.8H246V385.8H245.5V385.8H245V385.8H244.5V385.8H244V385.8H243.5V385.8H243V385.8H242.5V385.8H242V385.8H241.5V385.8H241V385.8H240.5V385.8H240V385.8H239.5V385.8H239V385.8H238.5V385.8H238V385.8H237.5V385.8H237V385.8H236.5V385.8H236V385.8H235.5V386.4H235V386.4H234.5V386.4H234V385.8H233.5V385.8H233V385.8H232.5V385.8H232V385.8H231.5V385.8H231V385.8H230.5V385.8H230V385.8H229.5V385.8H229V385.8H228.5V385.8H228V385.8H227.5V385.8H227V385.8H226.5V385.8H226V385.8H225.5V385.8H225V385.8H224.5V385.8H224V385.8H223.5V385.8H223V385.8H222.5V385.8H222V385.8H221.5V385.8H221V385.8H220.5V385.8H220V385.8H219.5V385.8H219V385.8H218.5V385.8H218V385.8H217.5V386.3H217V386.3H216.5V385.8H216V385.8H215.5V385.8H215V385.8H214.5V385.8H214V385.8H213.5V385.8H213V385.8H212.5V385.8H212V385.8H211.5V385.8H211V385.8H210.5V385.8H210V385.8H209.5V385.8H209V385.8H208.5V385.8H208V385.8H207.5V385.8H207V385.8H206.5V385.8H206V385.8H205.5V385.8H205V385.8H204.5V385.8H204V385.8H203.5V385.8H203V385.8H202.5V385.8H202V385.8H201.5V385.8H201V385.8H200.5V385.8H200V385.8H199.5V385.8H199V385.8H198.5V385.8H198V385.8H197.5V385.8H197V385.8H196.5V385.8H196V385.8H195.5V385.8H195V385.8H194.5V385.8H194V385.8H193.5V385.8H193V385.8H192.5V385.8H192V385.8H191.5V386.3H191V386.3H190.5V385.8H190V385.8H189.5V385.8H189V385.8H188.5V385.8H188V385.8H187.5V385.8H187V385.8H186.5V385.8H186V385.8H185.5V385.8H185V385.8H184.5V385.8H184V385.8H183.5V385.8H183V385.8H182.5V385.8H182V385.8H181.5V385.8H181V385.8H180.5V385.8H180V385.8H179.5V385.8H179V385.8H178.5V385.8H178V385.8H177.5V385.8H177V385.8H176.5V385.8H176V385.8H175.5V385.8H175V385.8H174.5V385.8H174V385.8H173.5V385.8H173V385.8H172.5V385.8H172V385.8H171.5V385.8H171V385.8H170.5V385.8H170V385.8H169.5V385.8H169V385.8H168.5V385.8H168V385.8H167.5V386.3H167V386.3H166.5V385.8H166V385.8H165.5V385.8H165V385.8H164.5V385.8H164V385.8H163.5V385.8H163V385.8H162.5V385.8H162V385.8H161.5V385.8H161V385.8H160.5V385.8H160V385.8H159.5V385.8H159V385.8H158.5V385.8H158V385.8H157.5V386.3H157V386.3H156.5V386.3H156V385.8H155.5V385.8H155V385.8H154.5V385.8H154V385.8H153.5V385.8H153V385.8H152.5V385.8H152V385.8H151.5V385.8H151V385.8H150.5V385.8H150V385.8H149.5V385.8H149V385.8H148.5V385.8H148V385.8H147.5V385.8H147V385.8H146.5V385.8H146V385.8H145.5V385.8H145V385.8H144.5V385.8H144V385.8H143.5V385.8H143V385.8H142.5V385.8H142V385.8H141.5V385.8H141V385.8H140.5V385.8H140V385.8H139.5V385.8H139V385.8H138.5V385.8H138V385.8H137.5V385.8H137V385.8H136.5V385.8H136V385.8H135.5V385.8H135V385.8H134.5V385.8H134V385.8H133.5V385.8H133V385.8H132.5V385.8H132V385.8H131.5V385.8H131V385.8H130.5V385.8H130V385.8H129.5V385.8H129V385.8H128.5V385.8H128V385.8H127.5V385.8H127V385.8H126.5V385.8H126V385.8H125.5V385.8H125V385.8H124.5V385.8H124V385.8H123.5V385.8H123V385.8H122.5V385.8H122V385.8H121.5V385.8H121V385.8H120.5V385.8H120V386.4H119.5V386.4H119V385.8H118.5V385.8H118V385.8H117.5V385.8H117V385.8H116.5V385.8H116V385.8H115.5V386.4H115V386.4H114.5V386.4H114V385.8H113.5V385.8H113V385.8H112.5V385.8H112V385.8H111.5V385.8H111V385.8H110.5V385.8H110V385.8H109.5V385.8H109V385.8H108.5V386.7H108V386.7H107.5V386.7H107V385.8H106.5V385.8H106V385.8H105.5V385.8H105V385.8H104.5V385.8H104V385.8H103.5V385.8H103V385.8H102.5V385.8H102V385.8H101.5V385.8H101V385.8H100.5V385.8H100V385.8H99.5V385.8H99V385.8H98.5V385.8H98V385.8H97.5V386.3H97V386.3H96.5V385.8H96V385.8H95.5V385.8H95V385.8H94.5V385.8H94V385.8H93.5V385.8H93V385.8H92.5V385.8H92V385.8H91.5V385.8H91V385.8H90.5V385.8H90V385.8H89.5V385.8H89V385.8H88.5V385.8H88V385.8H87.5V385.8H87V385.8H86.5V385.8H86V385.8H85.5V385.8H85V385.8H84.5V385.8H84V385.8H83.5V385.8H83V385.8H82.5V386.6H82V386.6H81.5V385.8H81V385.8H80.5Z" fill="#4c4c4c" stroke="#4c4c4c" stroke-width="0.2" stroke-linejoin="miter"/>
<path d="M80.5,584.8V584.8H81V584.8H81.5V584.8H82V584.8H82.5V584.8H83V584.8H83.5V584.8H84V584.8H84.5V584.8H85V584.8H85.5V584.8H86V584.8H86.5V584.8H87V584.8H87.5V584.8H88V584.8H88.5V584.8H89V584.8H89.5V584.8H90V584.8H90.5V584.8H91V584.8H91.5V584.8H92V584.8H92.5V584.8H93V584.8H93.5V584.8H94V584.8H94.5V584.8H95V584.8H95.5V584.8H96V584.8H96.5V584.8H97V584.8H97.5V584.8H98V584.8H98.5V584.8H99V584.8H99.5V584.8H100V584.8H100.5V584.8H101V584.8H101.5V584.8H102V584.8H102.5V584.8H103V584.8H103.5V584.8H104V584.8H104.5V584.8H105V584.8H105.5V584.8H106V584.8H106.5V584.8H107V584.8H107.5V584.8H108V584.8H108.5V584.8H109V584.8H109.5V584.8H110V584.8H110.5V584.8H111V584.8H111.5V584.8H112V584.8H112.5V584.8H113V584.8H113.5V584.8H114V584.8H114.5V584.8H115V584.8H115.5V584.8H116V584.8H116.5V584.8H117V584.8H117.5V584.8H118V584.8H118.5V584.8H119V584.8H119.5V584.8H120V584.8H120.5V584.8H121V584.8H121.5V584.8H122V584.8H122.5V584.8H123V584.8H123.5V584.8H124V584.8H124.5V584.8H125V584.8H125.5V584.8H126V584.8H126.5V584.8H127V584.8H127.5V584.8H128V584.8H128.5V584.8H129V584.8H129.5V584.8H130V584.8H130.5V584.8H131V584.8H131.5V584.8H132V584.8H132.5V584.8H133V584.8H133.5V584.8H134V584.8H134.5V584.8H135V584.8H135.5V584.8H136V584.8H136.5V584.8H137V584.8H137.5V584.8H138V584.8H138.5V584.8H139V584.8H139.5V584.8H140V584.8H140.5V584.8H141V584.8H141.5V584.8H142V584.8H142.5V584.8H143V584.8H143.5V584.8H144V584.8H144.5V584.8H145V584.8H145.5V584.8H146V584.8H146.5V584.8H147V584.8H147.5V584.8H148V584.8H148.5V584.8H149V584.8H149.5V584.8H150V584.8H150.5V584.8H151V584.8H151.5V584.8H152V584.8H152.5V584.8H153V584.8H153.5V584.8H154V584.8H154.5V584.8H155V584.8H155.5V584.8H156V584.8H156.5V584.8H157V584.8H157.5V584.8H158V584.8H158.5V584.8H159V584.8H159.5V584.8H160V584.8H160.5V584.8H161V584.8H161.5V584.8H162V584.8H162.5V584.8H163V584.8H163.5V584.8H164V584.8H164.5V584.8H165V584.8H165.5V584.8H166V584.8H166.5V584.8H167V584.8H167.5V584.8H168V584.8H168.5V584.8H169V584.8H169.5V584.8H170V584.8H170.5V584.8H171V584.8H171.5V584.8H172V584.8H172.5V584.8H173V584.8H173.5V584.8H174V584.8H174.5V584.8H175V584.8H175.5V584.8H176V584.8H176.5V584.8H177V584.8H177.5V584.8H178V584.8H178.5V584.8H179V584.8H179.5V584.8H180V584.8H180.5V584.8H181V584.8H181.5V584.8H182V584.8H182.5V584.8H183V584.8H183.5V584.8H184V584.8H184.5V584.8H185V584.8H185.5V584.8H186V584.8H186.5V584.8H187V584.8H187.5V584.8H188V584.8H188.5V584.8H189V584.8H189.5V584.8H190V584.8H190.5V584.8H191V584.8H191.5V584.8H192V584.8H192.5V584.8H193V584.8H193.5V584.8H194V584.8H194.5V584.8H195V584.8H195.5V584.8H196V584.8H196.5V584.8H197V584.8H197.5V584.8H198V584.8H198.5V584.8H199V584.8H199.5V584.8H200V584.8H200.5V584.8H201V584.8H201.5V584.8H202V584.8H202.5V584.8H203V584.8H203.5V584.8H204V584.8H204.5V584.8H205V584.8H205.5V584.8H206V584.8H206.5V584.8H207V584.8H207.5V584.8H208V584.8H208.5V584.8H209V584.8H209.5V584.8H210V584.8H210.5V584.8H211V584.8H211.5V584.8H212V584.8H212.5V584.8H213V584.8H213.5V584.8H214V584.8H214.5V584.8H215V584.8H215.5V584.8H216V584.8H216.5V584.8H217V584.8H217.5V584.8H218V584.8H218.5V584.8H219V584.8H219.5V584.8H220V584.8H220.5V584.8H221V584.8H221.5V584.8H222V584.8H222.5V584.8H223V584.8H223.5V584.8H224V584.8H224.5V584.8H225V584.8H225.5V584.8H226V584.8H226.5V584.8H227V584.8H227.5V584.8H228V584.8H228.5V584.8H229V584.8H229.5V584.8H230V584.8H230.5V584.8H231V584.8H231.5V584.8H232V584.8H232.5V584.8H233V584.8H233.5V584.8H234V584.8H234.5V584.8H235V584.8H235.5V584.8H236V584.8H236.5V584.8H237V584.8H237.5V584.8H238V584.8H238.5V584.8H239V584.8H239.5V584.8H240V584.8H240.5V584.8H241V584.8H241.5V584.8H242V584.8H242.5V584.8H243V584.8H243.5V584.8H244V584.8H244.5V584.8H245V584.8H245.5V584.8H246V584.8H246.5V584.8H247V584.8H247.5V584.8H248V584.8H248.5V584.8H249V584.8H249.5V584.8H250V584.8H250.5V584.8H251V584.8H251.5V584.8H252V584.8H252.5V584.8H253V584.8H253.5V584.8H254V584.8H254.5V584.8H255V584.8H255.5V584.8H256V584.8H256.5V584.8H257V584.8H257.5V584.8H258V584.8H258.5V584.8H259V584.8H259.5V584.8H260V584.8H260.5V584.8H261V584.8H261.5V584.8H262V584.8H262.5V584.8H263V584.8H263.5V584.8H264V584.8H264.5V584.8H265V584.8H265.5V584.8H266V584.8H266.5V584.8H267V584.8H267.5V584.8H268V584.8H268.5V584.8H269V584.8H269.5V584.8H270V584.8H270.5V584.8H271V584.8H271.5V584.8H272V584.8H272.5V584.8H273V584.8H273.5V584.8H274V584.8H274.5V584.8H275V584.8H275.5V584.8H276V584.8H276.5V584.8H277V584.8H277.5V584.8H278V584.8H278.5V583.9H279V582.5H279.5V580.7H280V580.3H280.5V580.6H281V580.5H281.5V580.2H282V580.2H282.5V580H283V579.9H283.5V580H284V579.9H284.5V581H285V580.9H285.5V579.6H286V579.3H286.5V578.2H287V578.3H287.5V578.5H288V578.7H288.5V579.8H289V581.2H289.5V581.5H290V581.3H290.5V581.6H291V581.5H291.5V580.4H292V580.1H292.5V581H293V581.2H293.5V581.1H294V581.2H294.5V580.9H295V581.3H295.5V581.8H296V582.2H296.5V582.4H297V582.5H297.5V582.8H298V583H298.5V583H299V582.8H299.5V583.1H300V583H300.5V582.7H301V582.5H301.5V582.2H302V582H302.5V582H303V581.9H303.5V581.6H304V581.7H304.5V582.6H305V582.8H305.5V582.7H306V582.7H306.5V582H307V582H307.5V582.2H308V582.1H308.5V582.6H309V582.3H309.5V581.5H310V581.4H310.5V581.7H311V581.7H311.5V581.9H312V582H312.5V582.1H313V582.2H313.5V582.1H314V582.1H314.5V582.1H315V582H315.5V581.4H316V581H316.5V580.3H317V580.5H317.5V581.8H318V582H318.5V581.3H319V580.9H319.5V581.4H320V581H320.5V580.7H321V580.7H321.5V581.3H322V581.7H322.5V581H323V581.2H323.5V582.2H324V582.3H324.5V581.5H325V581.6H325.5V582.1H326V582H326.5V581.7H327V581.6H327.5V581.4H328V581.5H328.5V581.5H329V581.6H329.5V581.9H330V581.4H330.5V581.5H331V581.4H331.5V580.9H332V581.2H332.5V582H333V581.8H333.5V580.6H334V515.4H334.5V513.1H335V513.1H335.5V529H336V528.8H336.5V528.7H337V528.5H337.5V526.5H338V548.6H338.5V548.9H339V549.6H339.5V550.7H340V552.2H340.5V555.5H341V558H341.5V558.9H342V559.2H342.5V558.1H343V558.8H343.5V560.6H344V560H344.5V558.7H345V557.8H345.5V557.5H346V556H346.5V554.6H347V553.3H347.5V552H348V552H348.5V553.5H349V562.1H349.5V563.5H350V565.2H350.5V566.9H351V567.2H351.5V569.6H352V570.9H352.5V572.6H353V573.7H353.5V571.1H354V571.4H354.5V572H355V572.2H355.5V573.1H356V573.3H356.5V572.2H357V571.7H357.5V571.9H358V572.1H358.5V573H359V571.8H359.5V569.2H360V567.8H360.5V569.7H361V569.8H361.5V568.3H362V572.3H362.5V573.8H363V574.3H363.5V576.3H364V576.1H364.5V576.3H365V576.1H365.5V574.3H366V573.4H366.5V572.3H367V573.6H367.5V574.7H368V573H368.5V574.6H369V573.9H369.5V571.1H370V571H370.5V571.1H371V570.9H371.5V572.5H372V573.7H372.5V575.3H373V576.4H373.5V575.2H374V574.9H374.5V575H375V576.1H375.5V576.3H376V577.5H376.5V573H377V569.6H377.5V570H378V570.9H378.5V573.4H379V575.7H379.5V578.1H380V578.9H380.5V579.1H381V579H381.5V579.6H382V579.4H382.5V576.6H383V574.1H383.5V572.8H384V572.8H384.5V577.3H385V578.9H385.5V578.2H386V577.8H386.5V577.5H387V577.4H387.5V577.8H388V577.7H388.5V576.5H389V577.3H389.5V579.4H390V580H390.5V579.3H391V578.7H391.5V578.8H392V578.2H392.5V576.8H393V576.9H393.5V578.9H394V579H394.5V577.2H395V577.2H395.5V576.9H396V576.8H396.5V576.7H397V575.8H397.5V575.1H398V574.8H398.5V578.3H399V579.9H399.5V579.2H400V579.5H400.5V580.8H401V581H401.5V580.2H402V579.8H402.5V579.8H403V579.5H403.5V578.5H404V578.2H404.5V578.8H405V578.8H405.5V578.3H406V578.7H406.5V580.4H407V580.6H407.5V580.5H408V580.6H408.5V580.4H409V580.8H409.5V580.5H410V581H410.5V581.4H411V581.6H411.5V582.1H412V582.2H412.5V582.2H413V582.3H413.5V582.5H414V582.3H414.5V581.7H415V581.6H415.5V582.1H416V581.5H416.5V580.4H417V578.1H417.5V575.4H418V575.4H418.5V578.7H419V581H419.5V581.2H420V581.6H420.5V581.7H421V581.6H421.5V581.4H422V581.2H422.5V580.8H423V580.7H423.5V581.1H424V581.2H424.5V581.1H425V581.2H425.5V581.3H426V581.6H426.5V582.1H427V582.4H427.5V582.9H428V582.5H428.5V581.2H429V580.7H429.5V580.7H430V581.1H430.5V581.5H431V581.9H431.5V582.9H432V582.8H432.5V582.3H433V582.1H433.5V581.5H434V581.2H434.5V581.7H435V581.9H435.5V581.8H436V582H436.5V582.4H437V582.4H437.5V582.2H438V582.1H438.5V582.5H439V582.4H439.5V581.7H440V581.6H440.5V582.5H441V582.4H441.5V581.8H442V581.7H442.5V581.4H443V581.3H443.5V581.8H444V581.9H444.5V581.4H445V581.6H445.5V582.5H446V582.6H446.5V581.6H447V581.5H447.5V582.1H448V582H448.5V581.4H449V581.3H449.5V581.2H450V581.1H450.5V581.4H451V581.4H451.5V581.1H452V581.1H452.5V580.8H453V580.8H453.5V581.5H454V581.6H454.5V582.1H455V582.1H455.5V582H456V582.1H456.5V581.8H457V581.9H457.5V581.6H458V581.7H458.5V581.7H459V581.8H459.5V582.3H460V582.4H460.5V582.7H461V582.8H461.5V582.5H462V582.5H462.5V582.3H463V582.3H463.5V583.2H464V583.2H464.5V582.9H465V582.8H465.5V582H466V582H466.5V582.9H467V583H467.5V582.6H468V582.6H468.5V582.5H469V582.6H469.5V582.3H470V582.4H470.5V582.6H471V582.6H471.5V583.2H472V583.2H472.5V582.2H473V582.2H473.5V582.6H474V582.6H474.5V582.5H475V582.5H475.5V582.3H476V582.4H476.5V582.5H477V582.5H477.5V582.9H478V582.9H478.5V583.1H479V583.1H479.5V583.1H480V583.1H480.5V583H481V583.1H481.5V582.7H482V582.7H482.5V583.3H483V583.3H483.5V583.3H484V583.3H484.5V583.3H485V583.3H485.5V583H486V583H486.5V583.3H487V583.3H487.5V582.5H488V582.5H488.5V582.9H489V582.9H489.5V582.5H490V582.5H490.5V582.9H491V582.9H491.5V582.6H492V582.6H492.5V582.9H493V582.9H493.5V583.6H494V583.6H494.5V583.6H495V583.6H495.5V582.8H496V582.8H496.5V583.1H497V583.1H497.5V583.6H498V583.7H498.5V583.2H499V583.2H499.5V582.9H500V582.9H500.5V583.2H501V583.2H501.5V582.9H502V582.9H502.5V583.6H503V583.6H503.5V583.2H504V583.2H504.5V583.3H505V583.3H505.5V583.7H506V583.7H506.5V583.8H507V583.8H507.5V583.1H508V583.1H508.5V583.8H509V583.8H509.5V583.4H510V583.4H510.5V583.5H511V583.6H511.5V583.2H512V583.2H512.5V583.2H513V583.2H513.5V583.2H514V583.2H514.5V583H515V583.1H515.5V583.1H516V583.1H516.5V583.3H517V583.3H517.5V583.3H518V583.3H518.5V583.3H519V583.3H519.5V583.9H520V583.9H520.5V583.9H521V583.9H521.5V583.8H522V583.8H522.5V583.8H523V583.8H523.5V583.9H524V583.9H524.5V583.9H525V583.9H525.5V583.8H526V583.8H526.5V583.6H527V583.6H527.5V583.7H528V583.7H528.5V583.9H529V583.9H529.5V583.9H530V584H530.5V583.9H531V583.9H531.5V583.9H532V583.9H532.5V583.8H533V583.8H533.5V583.5H534V583.5H534.5V583.4H535V583.4H535.5V583.4H536V583.5H536.5V584H537V584H537.5V583.7H538V583.7H538.5V584.1H539V584.1H539.5V584.1H540V584.1H540.5V584H541V584H541.5V583.9H542V583.9H542.5V583.7H543V583.7H543.5V583.6H544V583.6H544.5V583.7H545V583.7H545.5V583.7H546V583.7H546.5V584H547V584H547.5V583.6H548V583.6H548.5V583.8H549V583.8H549.5V583.8H550V583.9H550.5V584.1H551V584.1H551.5V583.6H552V583.6H552.5V583.7H553V583.7H553.5V583.8H554V583.8H554.5V583.8H555V583.8H555.5V584.1H556V584.1H556.5V584H557V584H557.5V583.7H558V583.7H558.5V583.9H559V583.9H559.5V584.1H560V584.1H560.5V584.1H561V584.1H561.5V584.2H562V584.2H562.5V584H563V584H563.5V584H564V584H564.5V584.2H565V584.2H565.5V584.4H566V584.4H566.5V584.1H567V584.1H567.5V584H568V584H568.5V583.9H569V583.9H569.5V584.1H570V584.1H570.5V584.2H571V584.2H571.5V584.2H572V584.2H572.5V584.2H573V584.2H573.5V584.3H574V584.3H574.5V584H575V584H575.5V583.9H576V583.9H576.5V583.9H577V583.9H577.5V584.1H578V584.2H578.5V584.1H579V584.1H579.5V584.2H580V584.2H580.5V584H581V584H581.5V583.9H582V583.9H582.5V584.4H583V584.4H583.5V584.1H584V584.1H584.5V584.1H585V584.1H585.5V584H586V584H586.5V584.3H587V584.3H587.5V584H588V584H588.5V584H589V584H589.5V584.2H590V584.2H590.5V584H591V584H591.5V584.1H592V584.1H592.5V584H593V584H593.5V584.5H594V584.5H594.5V584.1H595V584.1H595.5V584.5H596V584.5H596.5V584.1H597V584.1H597.5V584.5H598V584.5H598.5V584H599V584H599.5V584.2H600V584.2H600.5V584.5H601V584.5H601.5V584.2H602V584.2H602.5V584.1H603V584.1H603.5V584.5H604V584.5H604.5V584.3H605V584.3H605.5V584.2H606V584.2H606.5V584.3H607V584.3H607.5V584.2H608V584.2H608.5V584.3H609V584.3H609.5V584.4H610V584.4H610.5V584.3H611V584.3H611.5V584.4H612V584.4H612.5V584.5H613V584.5H613.5V584.3H614V584.3H614.5V584.4H615V584.4H615.5V584.5H616V584.5H616.5V584.2H617V584.2H617.5V584.6H618V584.6H618.5V584.4H619V584.4H619.5V584.3H620V584.3H620.5V584.6H621V584.6H621.5V584.4H622V584.4H622.5V584.4H623V584.4H623.5V584.2H624V584.2H624.5V584.6H625V584.6H625.5V584.2H626V584.2H626.5V584.3H627V584.3H627.5V584.7H628V584.7H628.5V584.7H629V584.7H629.5V584.6H630V584.6H630.5V584.4H631V584.4H631.5V584.3H632V584.3H632.5V584.4H633V584.4H633.5V584.3H634V584.3H634.5V584.4H635V584.4H635.5V584.5H636V584.5H636.5V584.3H637V584.3H637.5V584.5H638V584.5H638.5V584.4H639V584.4H639.5V584.3H640V584.3H640.5V584.4H641V584.4H641.5V584.4H642V584.4H642.5V584.4H643V584.4H643.5V584.6H644V584.6H644.5V584.5H645V584.5H645.5V584.4H646V584.4H646.5V584.5H647V584.5H647.5V584.6H648V584.6H648.5V584.4H649V584.4H649.5V584.7H650V584.8H650.5V584.4H651V584.4H651.5V584.6H652V584.6H652.5V584.4H653V584.4H653.5V584.4H654V584.4H654.5V584.6H655V584.6H655.5V584.6H656V584.6H656.5V584.6H657V584.6H657.5V584.7H658V584.7H658.5V584.4H659V584.4H659.5V584.6H660V584.6H660.5V584.6H661V584.6H661.5V584.7H662V584.7H662.5V584.4H663V584.4H663.5V584.6H664V584.6H664.5V584.4H665V584.4H665.5V584.5H666V584.5H666.5V584.8H667V584.8H667.5V584.4H668V584.4H668.5V584.6H669V584.6H669.5V584.4H670V584.4H670.5V584.5H671V584.5H671.5V584.5H672V584.5H672.5V584.7H673V584.7H673.5V584.4H674V584.4H674.5V584.8H675V584.8H675.5V584.5H676V584.5H676.5V584.6H677V584.6H677.5V584.6H678V584.6H678.5V584.5H679V584.5H679.5V584.8H680V584.8H680.5V584.8H681V584.8H681.5V584.7H682V584.7H682.5V584.7H683V584.7H683.5V584.6H684V584.6H684.5V584.6H685V584.6H685.5V584.7H686V584.7H686.5V584.6H687V584.6H687.5V584.7H688V584.7H688.5V584.7H689V584.7H689.5V584.8H690V584.8H690.5V584.5H691V584.5H691.5V584.8H692V584.8H692.5V584.5H693V584.5H693.5V584.6H694V584.6H694.5V584.5H695V584.5H695.5V584.6H696V584.6H696.5V584.7H697V584.7H697.5V584.6H698V584.6H698.5V584.5H699V584.5H699.5V584.8H700V584.8H700.5V584.6H701V584.6H701.5V584.7H702V584.7H702.5V584.6H703V584.6H703.5V584.8H704V584.8H704.5V584.7H705V584.7H705.5V584.7H706V584.7H706.5V584.8H707V584.8H707.5V584.8H708V584.8H708.5V584.8H709V584.8H709.5V584.7H710V584.7H710.5V584.5H711V584.5H711.5V584.8H712V584.8H712.5V584.7H713V584.7H713.5V584.6H714V584.6H714.5V584.8H715V584.8H715.5V584.5H716V584.5H716.5V584.5H717V584.5H717.5V584.6H718V584.6H718.5V584.8H719V584.8H719.5V584.8H720V584.8H720.5V584.5H721V584.5H721.5V584.6H722V584.6H722.5V584.8H723V584.8H723.5V584.8H724V584.8H724.5V584.6H725V584.6H725.5V584.7H726V584.7H726.5V584.8H727V584.8H727.5V584.8H728V584.8H728.5V584.6H729V584.6H729.5V584.7H730V584.7H730.5V584.7H731V584.7H731.5V584.7H732V584.7H732.5V584.8H733V584.8H733.5V584.6H734V584.6H734.5V584.6H735V584.6H735.5V584.8H736V584.8H736.5V584.8H737V584.8H737.5V584.8H738V584.8H738.5V584.7H739V584.7H739.5V584.8H740V584.8H740.5V584.8H741V584.8H741.5V584.7H742V584.7H742.5V584.8H743V584.8H743.5V584.8H744V584.8H744.5V584.7H745V584.7H745.5V584.7H746V584.7H746.5V584.8H747V584.8H747.5V584.8H748V584.8H748.5V584.6H749V584.6H749.5V584.8H750V584.8H750.5V584.7H751V584.7H751.5V584.8H752V584.8H752.5V584.8H753V584.8H753.5V584.8H754V584.8H754.5V584.7H755V584.7H755.5V584.8H756V584.8H756.5V584.8H757V584.8H757.5V584.6H758V584.6H758.5V584.8H759V584.8H759.5V584.7H760V584.7H760.5V586.8H760V586.8H759.5V586.8H759V586.8H758.5V587H758V587H757.5V587H757V587H756.5V586.8H756V586.8H755.5V586.8H755V586.8H754.5V586.8H754V586.8H753.5V587H753V587H752.5V586.8H752V586.8H751.5V586.9H751V586.9H750.5V586.9H750V586.9H749.5V586.9H749V586.9H748.5V586.8H748V586.8H747.5V586.8H747V586.8H746.5V586.9H746V586.9H745.5V586.8H745V586.8H744.5V586.9H744V586.9H743.5V586.8H743V586.8H742.5V586.8H742V586.8H741.5V586.8H741V586.8H740.5V586.9H740V586.9H739.5V586.9H739V586.9H738.5V586.9H738V586.9H737.5V587H737V587H736.5V586.9H736V586.9H735.5V586.9H735V586.9H734.5V587H734V587H733.5V586.8H733V586.8H732.5V587H732V587H731.5V586.8H731V586.8H730.5V587H730V587H729.5V586.9H729V586.9H728.5V587H728V587H727.5V586.9H727V586.9H726.5V586.9H726V586.9H725.5V586.9H725V586.9H724.5V587H724V587H723.5V587H723V587H722.5V587H722V587H721.5V586.8H721V586.8H720.5V587H720V587H719.5V586.9H719V586.9H718.5V586.9H718V586.9H717.5V586.9H717V586.9H716.5V587H716V587H715.5V586.8H715V586.8H714.5V586.8H714V586.8H713.5V586.9H713V586.9H712.5V587.1H712V587.1H711.5V586.9H711V586.9H710.5V586.9H710V586.9H709.5V586.9H709V586.9H708.5V586.8H708V586.8H707.5V587H707V587H706.5V587H706V587H705.5V586.8H705V586.8H704.5V587.1H704V587.1H703.5V587.1H703V587.1H702.5V586.8H702V586.8H701.5V586.9H701V586.9H700.5V587.1H700V587.1H699.5V587.1H699V587.1H698.5V586.9H698V586.9H697.5V586.8H697V586.8H696.5V587.1H696V587.1H695.5V586.9H695V586.9H694.5V586.9H694V586.9H693.5V587H693V587H692.5V587H692V587H691.5V586.8H691V586.8H690.5V586.8H690V586.8H689.5V586.8H689V586.8H688.5V587H688V587H687.5V586.9H687V586.9H686.5V586.9H686V586.9H685.5V586.9H685V586.9H684.5V586.9H684V586.9H683.5V587.2H683V587.2H682.5V586.9H682V586.9H681.5V586.9H681V586.9H680.5V587.1H680V587.1H679.5V586.9H679V586.9H678.5V586.8H678V586.8H677.5V587.2H677V587.2H676.5V587H676V587H675.5V587.2H675V587.2H674.5V586.8H674V586.8H673.5V587.1H673V587.1H672.5V587.1H672V587.1H671.5V587H671V587H670.5V587.1H670V587.1H669.5V587.1H669V587.1H668.5V586.9H668V586.9H667.5V587.2H667V587.2H666.5V587.1H666V587.1H665.5V587.2H665V587.2H664.5V587H664V587H663.5V586.8H663V586.8H662.5V587.2H662V587.2H661.5V587.2H661V587.2H660.5V586.9H660V586.9H659.5V587.2H659V587.2H658.5V586.9H658V586.9H657.5V587.1H657V587.1H656.5V587.1H656V587.1H655.5V586.9H655V586.9H654.5V587.2H654V587.2H653.5V587H653V587H652.5V587.2H652V587.2H651.5V587.1H651V587.1H650.5V587H650V587H649.5V587.1H649V587.1H648.5V587.2H648V587.2H647.5V586.9H647V586.9H646.5V587.1H646V587.1H645.5V587.3H645V587.3H644.5V587.2H644V587.2H643.5V586.9H643V586.9H642.5V587H642V587H641.5V587.1H641V587.1H640.5V587.1H640V587.1H639.5V587H639V587H638.5V587.3H638V587.3H637.5V587.2H637V587.2H636.5V586.9H636V586.9H635.5V587H635V587H634.5V587.2H634V587.2H633.5V586.9H633V586.9H632.5V587.1H632V587.1H631.5V587.3H631V587.3H630.5V587.2H630V587.2H629.5V587H629V587H628.5V587.1H628V587.1H627.5V587.2H627V587.2H626.5V587.3H626V587.3H625.5V587.2H625V587.2H624.5V587.2H624V587.2H623.5V587.2H623V587.2H622.5V587.4H622V587.4H621.5V587.1H621V587.1H620.5V587.3H620V587.3H619.5V587.3H619V587.3H618.5V587.4H618V587.4H617.5V587.1H617V587.1H616.5V587.1H616V587.1H615.5V587.1H615V587.1H614.5V587.1H614V587.1H613.5V587.3H613V587.3H612.5V587.3H612V587.3H611.5V587.1H611V587.1H610.5V587.2H610V587.2H609.5V587.1H609V587.1H608.5V587.3H608V587.3H607.5V587H607V587H606.5V587.3H606V587.3H605.5V587H605V587H604.5V587.4H604V587.4H603.5V587.2H603V587.2H602.5V587.5H602V587.5H601.5V587.1H601V587.1H600.5V587.3H600V587.3H599.5V587.5H599V587.5H598.5V587.2H598V587.2H597.5V587.4H597V587.4H596.5V587.4H596V587.4H595.5V587.1H595V587.1H594.5V587.3H594V587.3H593.5V587.2H593V587.2H592.5V587.3H592V587.3H591.5V587.1H591V587.1H590.5V587.5H590V587.5H589.5V587.3H589V587.3H588.5V587.2H588V587.2H587.5V587.4H587V587.4H586.5V587.6H586V587.6H585.5V587.4H585V587.4H584.5V587.4H584V587.4H583.5V587.3H583V587.3H582.5V587.5H582V587.5H581.5V587.4H581V587.4H580.5V587.2H580V587.2H579.5V587.7H579V587.7H578.5V587.2H578V587.2H577.5V587.4H577V587.4H576.5V587.4H576V587.4H575.5V587.6H575V587.6H574.5V587.7H574V587.7H573.5V587.5H573V587.5H572.5V587.4H572V587.4H571.5V587.6H571V587.6H570.5V587.6H570V587.6H569.5V587.4H569V587.4H568.5V587.8H568V587.8H567.5V587.5H567V587.5H566.5V587.3H566V587.3H565.5V587.7H565V587.7H564.5V587.9H564V587.9H563.5V587.5H563V587.5H562.5V587.5H562V587.6H561.5V587.3H561V587.3H560.5V587.3H560V587.3H559.5V587.6H559V587.6H558.5V587.9H558V588H557.5V587.6H557V587.6H556.5V587.8H556V587.8H555.5V587.5H555V587.5H554.5V587.8H554V587.8H553.5V588H553V588H552.5V587.6H552V587.6H551.5V587.8H551V587.8H550.5V587.8H550V587.8H549.5V587.7H549V587.7H548.5V587.8H548V587.8H547.5V587.5H547V587.5H546.5V587.5H546V587.5H545.5V587.8H545V587.9H544.5V587.5H544V587.5H543.5V587.6H543V587.6H542.5V588.1H542V588.1H541.5V588.1H541V588.1H540.5V588H540V588H539.5V588.1H539V588.1H538.5V587.9H538V587.9H537.5V587.7H537V587.7H536.5V587.6H536V587.6H535.5V587.8H535V587.8H534.5V587.9H534V587.9H533.5V587.8H533V587.8H532.5V587.7H532V587.7H531.5V587.8H531V587.8H530.5V587.6H530V587.6H529.5V587.6H529V587.6H528.5V587.6H528V587.6H527.5V588.1H527V588.1H526.5V588H526V588H525.5V587.8H525V587.8H524.5V588.3H524V588.3H523.5V588.1H523V588.1H522.5V588.2H522V588.2H521.5V588.2H521V588.2H520.5V587.7H520V587.7H519.5V588.1H519V588.1H518.5V588.4H518V588.4H517.5V588H517V588H516.5V588.1H516V588.1H515.5V587.8H515V587.8H514.5V587.9H514V587.9H513.5V588.5H513V588.5H512.5V588.4H512V588.4H511.5V587.8H511V587.8H510.5V588H510V588H509.5V587.9H509V587.9H508.5V588.5H508V588.5H507.5V588.2H507V588.2H506.5V588.7H506V588.7H505.5V587.9H505V587.9H504.5V588.1H504V588.1H503.5V587.9H503V587.9H502.5V588.7H502V588.7H501.5V588.3H501V588.3H500.5V588H500V588H499.5V588H499V588H498.5V588.2H498V588.2H497.5V588.5H497V588.5H496.5V588.4H496V588.4H495.5V588.5H495V588.5H494.5V588.1H494V588.1H493.5V588.6H493V588.6H492.5V588.1H492V588.1H491.5V588.9H491V588.9H490.5V588.5H490V588.5H489.5V588.8H489V588.8H488.5V588.7H488V588.7H487.5V588.6H487V588.6H486.5V588.8H486V588.8H485.5V588.8H485V588.8H484.5V588.9H484V588.9H483.5V588.8H483V588.8H482.5V588.5H482V588.5H481.5V588.7H481V588.7H480.5V588.7H480V588.7H479.5V588.3H479V588.3H478.5V588.5H478V588.5H477.5V588.9H477V588.9H476.5V589.3H476V589.3H475.5V588.5H475V588.5H474.5V588.8H474V588.8H473.5V588.8H473V588.9H472.5V589H472V589H471.5V589.4H471V589.4H470.5V589.2H470V589.2H469.5V588.8H469V588.8H468.5V589.4H468V589.4H467.5V588.6H467V588.6H466.5V588.6H466V588.6H465.5V589.4H465V589H464.5V589H464V589.1H463.5V589.6H463V589.8H462.5V589.3H462V589.3H461.5V588.9H461V588.8H460.5V589.7H460V589.7H459.5V589.7H459V589.6H458.5V589.6H458V589.6H457.5V589.1H457V589.2H456.5V589.8H456V589.8H455.5V589.3H455V589.4H454.5V589.9H454V590H453.5V590.2H453V590.3H452.5V589.6H452V589.7H451.5V589.9H451V589.9H450.5V590.4H450V590.4H449.5V590.2H449V590.1H448.5V589.3H448V589.3H447.5V589.5H447V589.5H446.5V589.7H446V589.8H445.5V589.4H445V589.5H444.5V590.7H444V590.8H443.5V590.4H443V590.5H442.5V590H442V590.1H441.5V591.1H441V591.3H440.5V591.6H440V591.8H439.5V591.9H439V591.8H438.5V591.3H438V591.2H437.5V591.6H437V591.5H436.5V590.8H436V590.7H435.5V591.1H435V591.1H434.5V590.9H434V590.9H433.5V590.5H433V590.6H432.5V590.7H432V590.8H431.5V590.2H431V590.3H430.5V590.2H430V590.1H429.5V591H429V590.8H428.5V590.7H428V590.5H427.5V590.2H427V590.3H426.5V589.6H426V589.7H425.5V590.3H425V590.3H424.5V590.4H424V590.3H423.5V590.3H423V590.3H422.5V590.7H422V590.8H421.5V591.5H421V592.1H420.5V591.8H420V592H419.5V591.4H419V591.3H418.5V592.3H418V592.5H417.5V592H417V592.3H416.5V592.2H416V591.8H415.5V592H415V591.5H414.5V591.6H414V591.4H413.5V590.6H413V590.5H412.5V589.9H412V589.8H411.5V590.1H411V590.1H410.5V590.8H410V590.7H409.5V590.8H409V590.8H408.5V590.7H408V590.8H407.5V591.2H407V591.3H406.5V592.9H406V596H405.5V594.5H405V593.5H404.5V590.3H404V590.3H403.5V590.3H403V590.3H402.5V590.5H402V590.8H401.5V592.3H401V592.7H400.5V592.8H400V593.1H399.5V592H399V592.2H398.5V592.7H398V592.8H397.5V592.6H397V592.6H396.5V593.7H396V593.7H395.5V593.4H395V593.4H394.5V592.4H394V592.5H393.5V594.1H393V594.2H392.5V593.3H392V593.4H391.5V593.5H391V593.6H390.5V593.6H390V593.7H389.5V593.1H389V593.2H388.5V593.9H388V594.1H387.5V596.1H387V596.5H386.5V595.3H386V594.9H385.5V596.1H385V595.6H384.5V595.4H384V596.6H383.5V596.5H383V597.5H382.5V595.6H382V594.6H381.5V595.1H381V595.7H380.5V596H380V596.1H379.5V595.1H379V594.8H378.5V593.5H378V594H377.5V595.5H377V596.2H376.5V595.6H376V595.9H375.5V598.9H375V599.7H374.5V600.6H374V601.8H373.5V601.2H373V600.9H372.5V602.2H372V601.5H371.5V597.9H371V597.4H370.5V598.6H370V598.3H369.5V599H369V598.7H368.5V598.4H368V598.2H367.5V598.4H367V598.7H366.5V597.4H366V597.7H365.5V597.3H365V598.3H364.5V598H364V598.7H363.5V602.7H363V603.4H362.5V601.4H362V600.7H361.5V601.5H361V600.8H360.5V598.8H360V599.1H359.5V600.4H359V600.7H358.5V599H358V599.3H357.5V601.8H357V602.2H356.5V602.4H356V602.5H355.5V601.9H355V600.6H354.5V597.2H354V599.5H353.5V602.8H353V604.8H352.5V606H352V606.4H351.5V607.4H351V607.7H350.5V608.2H350V610H349.5V611.1H349V611.1H348.5V610.4H348V609.5H347.5V611.5H347V611.9H346.5V610.4H346V610.8H345.5V611.1H345V612H344.5V613.5H344V614.4H343.5V616H343V618H342.5V621H342V656.6H341.5V656.2H341V656.2H340.5V643H340V620.3H339.5V620.6H339V623H338.5V628H338V649.3H337.5V666.5H337V666.5H336.5V663.9H336V669.2H335.5V686.1H335V686.1H334.5V686.9H334V614H333.5V590.9H333V591H332.5V591.6H332V591.7H331.5V591.9H331V592.1H330.5V591.9H330V591.7H329.5V590.5H329V590.3H328.5V591.3H328V591.1H327.5V591.1H327V591H326.5V590.9H326V590.8H325.5V589.9H325V590H324.5V589.8H324V589.9H323.5V589.7H323V589.8H322.5V589.9H322V590H321.5V591.1H321V591.2H320.5V591.3H320V591.4H319.5V591H319V591.1H318.5V591.8H318V591.8H317.5V590.7H317V590.8H316.5V591.3H316V591.1H315.5V591.7H315V591.5H314.5V590.9H314V590.7H313.5V590.1H313V590.2H312.5V590.1H312V590.2H311.5V590.2H311V590.3H310.5V591.8H310V591.9H309.5V591.1H309V591.1H308.5V591H308V591.1H307.5V591.1H307V591H306.5V591.3H306V591.1H305.5V591.3H305V591.1H304.5V590.6H304V590.4H303.5V589.8H303V589.6H302.5V589.7H302V589.7H301.5V589.9H301V590H300.5V590.1H300V590.2H299.5V589.6H299V589.6H298.5V590.4H298V590.5H297.5V590.1H297V590.3H296.5V590H296V590.3H295.5V591H295V590.9H294.5V591.3H294V591.1H293.5V590.8H293V591.2H292.5V591.9H292V592.5H291.5V593.2H291V593.4H290.5V592.4H290V591.7H289.5V590.4H289V590.6H288.5V591.6H288V591.8H287.5V591.7H287V592.2H286.5V592.2H286V592.6H285.5V594.4H285V594.5H284.5V592.6H284V592H283.5V591.8H283V591.6H282.5V592.2H282V591.9H281.5V591.4H281V590.9H280.5V589.8H280V589.3H279.5V588.7H279V587.5H278.5V586.8H278V586.8H277.5V586.8H277V586.8H276.5V586.8H276V586.8H275.5V586.8H275V586.8H274.5V586.8H274V586.8H273.5V586.8H273V586.8H272.5V586.8H272V586.8H271.5V586.8H271V586.8H270.5V586.8H270V586.8H269.5V586.8H269V586.8H268.5V586.8H268V586.8H267.5V586.8H267V586.8H266.5V586.8H266V586.8H265.5V586.8H265V586.8H264.5V586.8H264V586.8H263.5V586.8H263V586.8H262.5V586.8H262V586.8H261.5V586.8H261V586.8H260.5V586.8H260V586.8H259.5V586.8H259V586.8H258.5V586.8H258V586.8H257.5V586.8H257V586.8H256.5V586.8H256V586.8H255.5V586.8H255V586.8H254.5V586.8H254V586.8H253.5V586.8H253V586.8H252.5V586.8H252V586.8H251.5V586.8H251V586.8H250.5V586.8H250V586.8H249.5V586.8H249V586.8H248.5V586.8H248V586.8H247.5V586.8H247V586.8H246.5V586.8H246V586.8H245.5V586.8H245V586.8H244.5V586.8H244V586.8H243.5V586.8H243V586.8H242.5V586.8H242V586.8H241.5V586.8H241V586.8H240.5V586.8H240V586.8H239.5V586.8H239V586.8H238.5V586.8H238V586.8H237.5V586.8H237V586.8H236.5V586.8H236V586.8H235.5V586.8H235V586.8H234.5V586.8H234V586.8H233.5V586.8H233V586.8H232.5V586.8H232V586.8H231.5V586.8H231V586.8H230.5V586.8H230V586.8H229.5V586.8H229V586.8H228.5V586.8H228V586.8H227.5V586.8H227V586.8H226.5V586.8H226V586.8H225.5V586.8H225V586.8H224.5V586.8H224V586.8H223.5V586.8H223V586.8H222.5V586.8H222V586.8H221.5V586.8H221V586.8H220.5V586.8H220V586.8H219.5V586.8H219V586.8H218.5V586.8H218V586.8H217.5V586.8H217V586.8H216.5V586.8H216V586.8H215.5V586.8H215V586.8H214.5V586.8H214V586.8H213.5V586.8H213V586.8H212.5V586.8H212V586.8H211.5V586.8H211V586.8H210.5V586.8H210V586.8H209.5V586.8H209V586.8H208.5V586.8H208V586.8H207.5V586.8H207V586.8H206.5V586.8H206V586.8H205.5V586.8H205V586.8H204.5V586.8H204V586.8H203.5V586.8H203V586.8H202.5V586.8H202V586.8H201.5V586.8H201V586.8H200.5V586.8H200V586.8H199.5V586.8H199V586.8H198.5V586.8H198V586.8H197.5V586.8H197V586.8H196.5V586.8H196V586.8H195.5V586.8H195V586.8H194.5V586.8H194V586.8H193.5V586.8H193V586.8H192.5V586.8H192V586.8H191.5V586.8H191V586.8H190.5V586.8H190V586.8H189.5V586.8H189V586.8H188.5V586.8H188V586.8H187.5V586.8H187V586.8H186.5V586.8H186V586.8H185.5V586.8H185V586.8H184.5V586.8H184V586.8H183.5V586.8H183V586.8H182.5V586.8H182V586.8H181.5V586.8H181V586.8H180.5V586.8H180V586.8H179.5V586.8H179V586.8H178.5V586.8H178V586.8H177.5V586.8H177V586.8H176.5V586.8H176V586.8H175.5V586.8H175V586.8H174.5V586.8H174V586.8H173.5V586.8H173V586.8H172.5V586.8H172V586.8H171.5V586.8H171V586.8H170.5V586.8H170V586.8H169.5V586.8H169V586.8H168.5V586.8H168V586.8H167.5V586.8H167V586.8H166.5V586.8H166V586.8H165.5V586.8H165V586.8H164.5V586.8H164V586.8H163.5V586.8H163V586.8H162.5V586.8H162V586.8H161.5V586.8H161V586.8H160.5V586.8H160V586.8H159.5V586.8H159V586.8H158.5V586.8H158V586.8H157.5V586.8H157V586.8H156.5V586.8H156V586.8H155.5V586.8H155V586.8H154.5V586.8H154V586.8H153.5V586.8H153V586.8H152.5V586.8H152V586.8H151.5V586.8H151V586.8H150.5V586.8H150V586.8H149.5V586.8H149V586.8H148.5V586.8H148V586.8H147.5V586.8H147V586.8H146.5V586.8H146V586.8H145.5V586.8H145V586.8H144.5V586.8H144V586.8H143.5V586.8H143V586.8H142.5V586.8H142V586.8H141.5V586.8H141V586.8H140.5V586.8H140V586.8H139.5V586.8H139V586.8H138.5V586.8H138V586.8H137.5V586.8H137V586.8H136.5V586.8H136V586.8H135.5V586.8H135V586.8H134.5V586.8H134V586.8H133.5V586.8H133V586.8H132.5V586.8H132V586.8H131.5V586.8H131V586.8H130.5V586.8H130V586.8H129.5V586.8H129V586.8H128.5V586.8H128V586.8H127.5V586.8H127V586.8H126.5V586.8H126V586.8H125.5V586.8H125V586.8H124.5V586.8H124V586.8H123.5V586.8H123V586.8H122.5V586.8H122V586.8H121.5V586.8H121V586.8H120.5V586.8H120V586.8H119.5V586.8H119V586.8H118.5V586.8H118V586.8H117.5V586.8H117V586.8H116.5V586.8H116V586.8H115.5V586.8H115V586.8H114.5V586.8H114V586.8H113.5V586.8H113V586.8H112.5V586.8H112V586.8H111.5V586.8H111V586.8H110.5V586.8H110V586.8H109.5V586.8H109V586.8H108.5V586.8H108V586.8H107.5V586.8H107V586.8H106.5V586.8H106V586.8H105.5V586.8H105V586.8H104.5V586.8H104V586.8H103.5V586.8H103V586.8H102.5V586.8H102V586.8H101.5V586.8H101V586.8H100.5V586.8H100V586.8H99.5V586.8H99V586.8H98.5V586.8H98V586.8H97.5V586.8H97V586.8H96.5V586.8H96V586.8H95.5V586.8H95V586.8H94.5V586.8H94V586.8H93.5V586.8H93V586.8H92.5V586.8H92V586.8H91.5V586.8H91V586.8H90.5V586.8H90V586.8H89.5V586.8H89V586.8H88.5V586.8H88V586.8H87.5V586.8H87V586.8H86.5V586.8H86V586.8H85.5V586.8H85V586.8H84.5V586.8H84V586.8H83.5V586.8H83V586.8H82.5V586.8H82V586.8H81.5V586.8H81V586.8H80.5Z" fill="#4c4c4c" stroke="#4c4c4c" stroke-width="0.2" stroke-linejoin="miter"/>
<g stroke="#4c4c4c" stroke-width="1.35" fill="none" stroke-linejoin="miter">
<rect x="80.50" y="60.50" width="680.00" height="649.95"/>
<rect x="79.80" y="276.6" width="681.40" height="1.55" fill="#4c4c4c" stroke="none"/><rect x="79.80" y="492.6" width="681.40" height="1.55" fill="#4c4c4c" stroke="none"/>
</g>
<g stroke="#4c4c4c" stroke-width="0.85" fill="none">
<path d="M160.50,60.50v5.80 M160.50,277.35v-5.80"/>
<path d="M287.50,60.50v5.80 M287.50,277.35v-5.80"/>
<path d="M414.50,60.50v5.80 M414.50,277.35v-5.80"/>
<path d="M540.50,60.50v5.80 M540.50,277.35v-5.80"/>
<path d="M667.50,60.50v5.80 M667.50,277.35v-5.80"/>
<path d="M80.50,99.50h6.00 M760.50,99.50h-6.00"/>
<path d="M80.50,137.50h6.00 M760.50,137.50h-6.00"/>
<path d="M80.50,215.50h6.00 M760.50,215.50h-6.00"/>
<path d="M80.50,253.50h6.00 M760.50,253.50h-6.00"/>
<path d="M160.50,277.35v5.80 M160.50,493.35v-5.80"/>
<path d="M287.50,277.35v5.80 M287.50,493.35v-5.80"/>
<path d="M414.50,277.35v5.80 M414.50,493.35v-5.80"/>
<path d="M540.50,277.35v5.80 M540.50,493.35v-5.80"/>
<path d="M667.50,277.35v5.80 M667.50,493.35v-5.80"/>
<path d="M80.50,308.50h6.00 M760.50,308.50h-6.00"/>
<path d="M80.50,346.50h6.00 M760.50,346.50h-6.00"/>
<path d="M80.50,424.50h6.00 M760.50,424.50h-6.00"/>
<path d="M80.50,462.50h6.00 M760.50,462.50h-6.00"/>
<path d="M160.50,493.35v5.80 M160.50,710.45v-5.80"/>
<path d="M287.50,493.35v5.80 M287.50,710.45v-5.80"/>
<path d="M414.50,493.35v5.80 M414.50,710.45v-5.80"/>
<path d="M540.50,493.35v5.80 M540.50,710.45v-5.80"/>
<path d="M667.50,493.35v5.80 M667.50,710.45v-5.80"/>
<path d="M80.50,524.50h6.00 M760.50,524.50h-6.00"/>
<path d="M80.50,555.50h6.00 M760.50,555.50h-6.00"/>
<path d="M80.50,617.50h6.00 M760.50,617.50h-6.00"/>
<path d="M80.50,648.50h6.00 M760.50,648.50h-6.00"/>
<path d="M80.50,679.50h6.00 M760.50,679.50h-6.00"/>
</g>
<rect x="89.6" y="66.75" width="107.10" height="22.05" rx="3.2" ry="3.2" fill="#fff" stroke="#707070" stroke-width="1.3"/>
<rect x="89.6" y="283.42" width="107.90" height="22.05" rx="3.2" ry="3.2" fill="#fff" stroke="#707070" stroke-width="1.3"/>
<rect x="89.6" y="500.08" width="106.40" height="22.05" rx="3.2" ry="3.2" fill="#fff" stroke="#707070" stroke-width="1.3"/>
<g style="opacity:0.999">
<text transform="translate(74.30,64.00) scale(1.0950,1)" text-anchor="end" font-size="14.10">0.075</text>
<text transform="translate(74.30,103.20) scale(1.0950,1)" text-anchor="end" font-size="14.10">0.050</text>
<text transform="translate(74.30,140.70) scale(1.0950,1)" text-anchor="end" font-size="14.10">0.025</text>
<text transform="translate(74.30,179.70) scale(1.0950,1)" text-anchor="end" font-size="14.10">0.000</text>
<rect x="25.02" y="213.83" width="8.70" height="1.15"/>
<text transform="translate(74.30,218.50) scale(1.0950,1)" text-anchor="end" font-size="14.10">0.025</text>
<rect x="25.02" y="252.13" width="8.70" height="1.15"/>
<text transform="translate(74.30,256.80) scale(1.0950,1)" text-anchor="end" font-size="14.10">0.050</text>
<text transform="translate(74.30,312.20) scale(1.0950,1)" text-anchor="end" font-size="14.10">0.050</text>
<text transform="translate(74.30,349.70) scale(1.0950,1)" text-anchor="end" font-size="14.10">0.025</text>
<text transform="translate(74.30,388.70) scale(1.0950,1)" text-anchor="end" font-size="14.10">0.000</text>
<rect x="25.02" y="422.82" width="8.70" height="1.15"/>
<text transform="translate(74.30,427.50) scale(1.0950,1)" text-anchor="end" font-size="14.10">0.025</text>
<rect x="25.02" y="461.12" width="8.70" height="1.15"/>
<text transform="translate(74.30,465.80) scale(1.0950,1)" text-anchor="end" font-size="14.10">0.050</text>
<text transform="translate(74.30,527.80) scale(1.0950,1)" text-anchor="end" font-size="14.10">0.04</text>
<text transform="translate(74.30,558.80) scale(1.0950,1)" text-anchor="end" font-size="14.10">0.02</text>
<text transform="translate(74.30,589.80) scale(1.0950,1)" text-anchor="end" font-size="14.10">0.00</text>
<rect x="33.85" y="616.02" width="8.70" height="1.15"/>
<text transform="translate(74.30,620.70) scale(1.0950,1)" text-anchor="end" font-size="14.10">0.02</text>
<rect x="33.85" y="647.02" width="8.70" height="1.15"/>
<text transform="translate(74.30,651.70) scale(1.0950,1)" text-anchor="end" font-size="14.10">0.04</text>
<rect x="33.85" y="678.22" width="8.70" height="1.15"/>
<text transform="translate(74.30,682.90) scale(1.0950,1)" text-anchor="end" font-size="14.10">0.06</text>
<text transform="translate(160.40,727.20) scale(1.1000,1)" text-anchor="middle" font-size="14.10">06:01:54</text>
<text transform="translate(287.40,727.20) scale(1.1000,1)" text-anchor="middle" font-size="14.10">06:02:24</text>
<text transform="translate(414.40,727.20) scale(1.1000,1)" text-anchor="middle" font-size="14.10">06:02:54</text>
<text transform="translate(540.40,727.20) scale(1.1000,1)" text-anchor="middle" font-size="14.10">06:03:24</text>
<text transform="translate(667.40,727.20) scale(1.1000,1)" text-anchor="middle" font-size="14.10">06:03:54</text>
<text transform="translate(400.00,26.10) scale(1.1080,1)" text-anchor="middle" font-size="14.10">2016-04-03T06:01:35  -  2016-04-03T06:04:15.995</text>
<text transform="translate(93.70,81.90) scale(1.0450,1)" text-anchor="start" font-size="14.10">C1.A12C..HNZ</text>
<text transform="translate(93.70,298.57) scale(1.0450,1)" text-anchor="start" font-size="14.10">C1.A12C..HNN</text>
<text transform="translate(93.70,515.23) scale(1.0250,1)" text-anchor="start" font-size="14.10">C1.A12C..HNE</text>
</g>
</svg>
</body></html>
